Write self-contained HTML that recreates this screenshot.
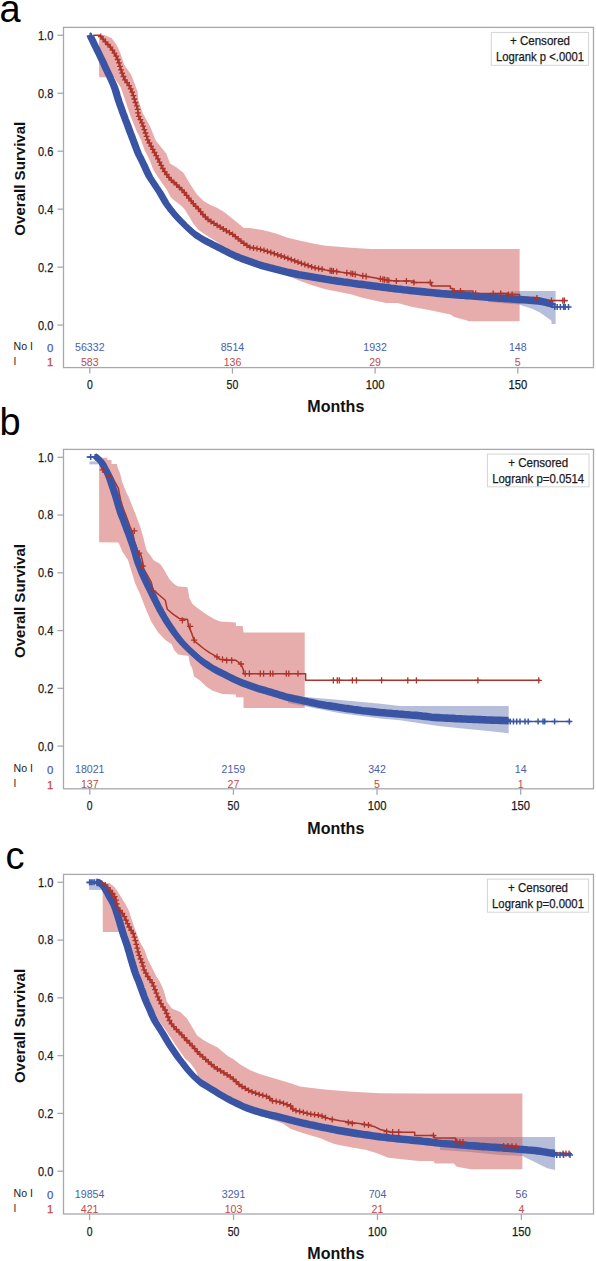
<!DOCTYPE html>
<html><head><meta charset="utf-8"><style>
html,body{margin:0;padding:0;background:#fff;overflow:hidden;width:596px;height:1261px;}
svg{display:block;font-family:"Liberation Sans", sans-serif;}
text{stroke-width:0.25px;paint-order:stroke;}
text.b{stroke-width:0;}
</style></head><body>
<svg width="596" height="1261" viewBox="0 0 596 1261">
<polygon points="488.0,294.0 519.3,290.9 555.6,290.9 555.6,324.0 551.5,324.0 551.5,320.7 545.9,316.7 540.3,312.7 532.2,308.7 524.2,306.2 519.3,304.6 500.0,303.0 488.0,302.0" fill="#6f7eb3" fill-opacity="0.5"/>
<polygon points="99.1,35.0 104.1,35.0 111.5,38.1 115.6,43.4 118.2,48.1 120.9,54.8 124.3,64.9 131.0,74.3 137.7,91.7 138.2,100.0 142.9,113.4 150.3,126.8 155.6,140.3 166.4,153.7 170.0,163.4 176.7,167.4 183.4,172.8 187.4,179.5 191.5,186.2 196.8,194.3 203.6,201.0 210.3,205.0 217.0,207.7 223.7,211.7 230.4,217.1 237.1,222.5 243.8,227.9 250.0,228.1 262.6,230.1 275.2,233.2 287.8,237.7 300.3,240.7 315.4,244.0 325.5,245.7 350.7,247.8 370.8,249.0 519.6,249.0 519.6,321.2 468.0,321.2 468.0,320.7 454.2,316.9 450.4,314.4 431.5,310.6 411.4,306.8 397.6,303.0 385.9,303.1 363.3,298.1 350.7,294.3 325.5,289.3 312.9,285.5 300.3,281.0 287.8,276.0 260.0,267.0 240.7,258.0 225.0,248.5 217.4,242.3 209.3,237.3 203.3,233.3 198.6,230.0 193.2,223.6 189.2,216.8 185.1,210.1 182.4,206.8 178.4,203.4 173.7,200.1 170.4,196.7 167.0,190.0 163.6,185.2 157.7,176.8 153.2,169.6 149.8,160.2 144.5,150.1 141.1,140.1 136.5,131.0 130.1,115.1 123.4,95.0 121.0,88.0 118.3,83.7 114.0,77.2 99.1,77.2" fill="#d05b5b" fill-opacity="0.5"/>
<polyline points="93.4,35.2 99.8,35.2 102.1,38.1 106.2,42.8 110.2,46.8 113.5,51.5 116.2,56.2 118.6,61.6 120.0,66.5 122.2,73.6 124.8,79.6 129.7,86.4 133.0,94.4 135.0,101.1 137.5,108.0 138.2,115.1 141.5,121.8 144.5,130.0 147.8,140.1 153.2,150.1 158.6,160.2 163.3,169.6 170.0,178.9 182.3,190.1 188.0,197.0 193.0,203.4 198.5,209.0 202.8,214.4 208.5,220.0 217.0,225.2 223.7,229.2 232.6,234.4 242.7,242.5 250.0,247.3 262.6,249.8 275.2,254.0 287.8,258.3 300.3,262.9 312.9,267.4 325.5,269.9 338.1,271.7 350.7,273.4 363.3,275.9 375.8,278.0 388.4,280.5 400.0,281.0 413.9,281.0 413.9,282.5 431.5,282.5 431.5,286.0 450.4,286.0 450.4,288.5 452.9,288.5 452.9,291.0 473.0,291.0 473.0,293.5 508.3,293.5 508.3,294.5 519.6,294.5 519.6,297.5 537.0,297.5 537.0,300.6 567.7,300.6" fill="none" stroke="#ab3329" stroke-width="1.5" stroke-linejoin="round" stroke-linecap="butt"/>
<g fill="none" stroke="#3b55a5" stroke-width="2.0" stroke-linejoin="round"><path d="M87.4 35.4L88.6 38.2L89.9 40.9L91.2 43.6L92.5 46.3L93.9 49.0L95.2 51.7L96.5 54.4L97.8 57.1L99.1 59.8L100.4 62.5L101.7 65.3L102.9 68.0L104.2 70.7L105.5 73.5L106.8 76.2L108.0 78.9L109.3 81.6L110.5 84.4L111.6 87.2L112.6 90.0L113.5 92.9L114.3 95.8L115.2 98.6L116.1 101.5L117.1 104.4L118.1 107.2L119.1 110.0L120.1 112.9L121.2 115.7L122.2 118.5L123.3 121.3L124.4 124.1L125.4 126.9L126.5 129.8L127.5 132.6L128.6 135.4L129.6 138.2L130.7 141.0L131.8 143.9L132.8 146.7L133.9 149.5L135.0 152.3L136.2 155.0L137.6 157.7L138.9 160.4L140.2 163.1L141.5 165.8L142.8 168.6L144.0 171.3L145.3 174.0L146.6 176.7L148.2 179.3L149.9 181.8L151.6 184.3L153.2 186.8L154.9 189.3L156.6 191.8L158.1 194.3L159.6 197.0L161.1 199.6L162.6 202.2L164.2 204.7L166.0 207.1L167.8 209.5L169.7 211.8L171.6 214.2L173.6 216.5L175.6 218.7L177.7 220.8L179.8 223.0L182.0 225.1L184.1 227.2L186.3 229.2L188.6 231.3L190.8 233.3L193.2 235.1L195.7 236.7L198.3 238.3L200.9 239.8L203.5 241.3L206.2 242.6L208.8 244.0L211.5 245.4L214.2 246.7L216.9 248.1L219.5 249.5L222.2 250.9L224.9 252.2L227.6 253.6L230.3 254.9L233.0 256.2L235.8 257.3L238.6 258.4L241.4 259.4L244.3 260.5L247.1 261.5L249.9 262.6L252.8 263.5L255.6 264.5L258.5 265.4L261.4 266.3L264.3 267.0L267.2 267.8L270.1 268.5L273.0 269.3L275.9 270.0L278.8 270.8L281.7 271.5L284.7 272.3L287.6 272.9L290.6 273.5L293.5 274.1L296.5 274.7L299.4 275.2L302.4 275.7L305.4 276.2L308.3 276.7L311.3 277.3L314.2 277.8L317.2 278.3L320.2 278.8L323.2 279.3L326.1 279.7L329.1 280.2L332.1 280.6L335.1 281.1L338.0 281.5L341.0 282.0L344.0 282.4L347.0 282.8L349.9 283.3L352.9 283.7L355.9 284.1L358.9 284.4L361.9 284.8L364.9 285.2L367.8 285.6L370.8 286.0L373.8 286.4L376.8 286.8L379.8 287.1L382.8 287.5L385.8 287.9L388.7 288.3L391.7 288.6L394.7 289.0L397.7 289.3L400.7 289.7L403.7 290.0L406.7 290.4L409.7 290.7L412.7 291.0L415.6 291.3L418.6 291.6L421.6 291.9L424.6 292.2L427.6 292.5L430.6 292.8L433.6 293.1L436.6 293.4L439.6 293.7L442.6 293.9L445.6 294.1L448.6 294.4L451.6 294.6L454.6 294.9L457.6 295.1L460.6 295.3L463.6 295.6L466.6 295.8L469.6 296.0L472.6 296.3L475.6 296.5L478.6 296.8L481.6 297.0L484.6 297.2L487.6 297.5L490.6 297.7L493.6 297.9L496.6 298.1L499.6 298.3L502.6 298.6L505.6 298.8L508.6 299.0L511.6 299.2L514.6 299.4L517.6 299.6L520.6 299.8L523.6 300.0L526.6 300.3L529.6 300.5L532.6 300.7L535.6 301.0L538.6 301.4L541.5 302.1L544.4 302.8L547.3 303.6L550.2 304.5"/><path d="M88.3 35.4L89.5 38.2L90.8 40.9L92.1 43.6L93.5 46.3L94.8 49.0L96.1 51.7L97.5 54.4L98.8 57.1L100.1 59.8L101.3 62.5L102.6 65.3L103.8 68.0L105.1 70.7L106.4 73.5L107.7 76.2L109.0 78.9L110.2 81.6L111.4 84.4L112.6 87.2L113.5 90.0L114.4 92.9L115.3 95.8L116.1 98.6L117.1 101.5L118.1 104.4L119.1 107.2L120.1 110.0L121.1 112.9L122.1 115.7L123.2 118.5L124.2 121.3L125.3 124.1L126.4 126.9L127.4 129.8L128.5 132.6L129.5 135.4L130.6 138.2L131.6 141.0L132.7 143.9L133.8 146.7L134.8 149.5L135.9 152.3L137.2 155.0L138.5 157.7L139.9 160.4L141.2 163.1L142.4 165.8L143.7 168.6L144.9 171.3L146.2 174.0L147.6 176.7L149.1 179.3L150.8 181.8L152.5 184.3L154.2 186.8L155.8 189.3L157.5 191.8L159.1 194.3L160.6 197.0L162.0 199.6L163.5 202.2L165.1 204.7L166.9 207.1L168.8 209.5L170.7 211.8L172.6 214.2L174.5 216.5L176.6 218.7L178.7 220.8L180.8 223.0L182.9 225.1L185.1 227.2L187.3 229.2L189.5 231.3L191.7 233.3L194.1 235.1L196.6 236.7L199.2 238.3L201.8 239.8L204.4 241.3L207.1 242.6L209.8 244.0L212.5 245.4L215.1 246.7L217.8 248.1L220.5 249.5L223.2 250.9L225.8 252.2L228.5 253.6L231.2 254.9L234.0 256.2L236.7 257.3L239.6 258.4L242.4 259.4L245.2 260.5L248.0 261.5L250.8 262.6L253.7 263.5L256.5 264.5L259.4 265.4L262.3 266.3L265.2 267.0L268.1 267.8L271.0 268.5L273.9 269.3L276.9 270.0L279.8 270.8L282.7 271.5L285.6 272.3L288.5 272.9L291.5 273.5L294.4 274.1L297.4 274.7L300.4 275.2L303.3 275.7L306.3 276.2L309.3 276.7L312.2 277.3L315.2 277.8L318.1 278.3L321.1 278.8L324.1 279.3L327.1 279.7L330.0 280.2L333.0 280.6L336.0 281.1L339.0 281.5L341.9 282.0L344.9 282.4L347.9 282.8L350.9 283.3L353.9 283.7L356.8 284.1L359.8 284.4L362.8 284.8L365.8 285.2L368.8 285.6L371.8 286.0L374.7 286.4L377.7 286.8L380.7 287.1L383.7 287.5L386.7 287.9L389.7 288.3L392.7 288.6L395.6 289.0L398.6 289.3L401.6 289.7L404.6 290.0L407.6 290.4L410.6 290.7L413.6 291.0L416.6 291.3L419.6 291.6L422.6 291.9L425.6 292.2L428.6 292.5L431.6 292.8L434.5 293.1L437.5 293.4L440.5 293.7L443.5 293.9L446.5 294.1L449.5 294.4L452.5 294.6L455.5 294.9L458.5 295.1L461.5 295.3L464.5 295.6L467.5 295.8L470.5 296.0L473.5 296.3L476.5 296.5L479.5 296.8L482.5 297.0L485.5 297.2L488.5 297.5L491.5 297.7L494.5 297.9L497.5 298.1L500.5 298.3L503.5 298.6L506.5 298.8L509.5 299.0L512.5 299.2L515.5 299.4L518.6 299.6L521.6 299.8L524.6 300.0L527.6 300.3L530.6 300.5L533.6 300.7L536.6 301.0L539.5 301.4L542.5 302.1L545.4 302.8L548.3 303.6L551.1 304.5"/><path d="M89.3 35.4L90.5 38.2L91.7 40.9L93.1 43.6L94.4 46.3L95.7 49.0L97.1 51.7L98.4 54.4L99.7 57.1L101.0 59.8L102.3 62.5L103.5 65.3L104.8 68.0L106.0 70.7L107.3 73.5L108.6 76.2L109.9 78.9L111.2 81.6L112.4 84.4L113.5 87.2L114.5 90.0L115.3 92.9L116.2 95.8L117.1 98.6L118.0 101.5L119.0 104.4L120.0 107.2L121.0 110.0L122.0 112.9L123.0 115.7L124.1 118.5L125.2 121.3L126.2 124.1L127.3 126.9L128.4 129.8L129.4 132.6L130.5 135.4L131.5 138.2L132.6 141.0L133.6 143.9L134.7 146.7L135.8 149.5L136.9 152.3L138.1 155.0L139.5 157.7L140.8 160.4L142.1 163.1L143.4 165.8L144.6 168.6L145.9 171.3L147.1 174.0L148.5 176.7L150.1 179.3L151.7 181.8L153.4 184.3L155.1 186.8L156.8 189.3L158.4 191.8L160.0 194.3L161.5 197.0L162.9 199.6L164.4 202.2L166.1 204.7L167.9 207.1L169.7 209.5L171.6 211.8L173.5 214.2L175.5 216.5L177.5 218.7L179.6 220.8L181.7 223.0L183.8 225.1L186.0 227.2L188.2 229.2L190.4 231.3L192.7 233.3L195.0 235.1L197.5 236.7L200.1 238.3L202.7 239.8L205.4 241.3L208.0 242.6L210.7 244.0L213.4 245.4L216.1 246.7L218.7 248.1L221.4 249.5L224.1 250.9L226.8 252.2L229.5 253.6L232.2 254.9L234.9 256.2L237.7 257.3L240.5 258.4L243.3 259.4L246.1 260.5L248.9 261.5L251.8 262.6L254.6 263.5L257.5 264.5L260.3 265.4L263.2 266.3L266.1 267.0L269.0 267.8L272.0 268.5L274.9 269.3L277.8 270.0L280.7 270.8L283.6 271.5L286.5 272.3L289.5 272.9L292.4 273.5L295.4 274.1L298.3 274.7L301.3 275.2L304.3 275.7L307.2 276.2L310.2 276.7L313.2 277.3L316.1 277.8L319.1 278.3L322.0 278.8L325.0 279.3L328.0 279.7L331.0 280.2L333.9 280.6L336.9 281.1L339.9 281.5L342.9 282.0L345.8 282.4L348.8 282.8L351.8 283.3L354.8 283.7L357.8 284.1L360.8 284.4L363.7 284.8L366.7 285.2L369.7 285.6L372.7 286.0L375.7 286.4L378.7 286.8L381.6 287.1L384.6 287.5L387.6 287.9L390.6 288.3L393.6 288.6L396.6 289.0L399.6 289.3L402.6 289.7L405.5 290.0L408.5 290.4L411.5 290.7L414.5 291.0L417.5 291.3L420.5 291.6L423.5 291.9L426.5 292.2L429.5 292.5L432.5 292.8L435.5 293.1L438.5 293.4L441.5 293.7L444.5 293.9L447.5 294.1L450.5 294.4L453.5 294.6L456.5 294.9L459.5 295.1L462.5 295.3L465.5 295.6L468.5 295.8L471.5 296.0L474.5 296.3L477.5 296.5L480.5 296.8L483.5 297.0L486.5 297.2L489.5 297.5L492.5 297.7L495.5 297.9L498.5 298.1L501.5 298.3L504.5 298.6L507.5 298.8L510.5 299.0L513.5 299.2L516.5 299.4L519.5 299.6L522.5 299.8L525.5 300.0L528.5 300.3L531.5 300.5L534.5 300.7L537.5 301.0L540.5 301.4L543.4 302.1L546.3 302.8L549.2 303.6L552.1 304.5"/><path d="M90.2 35.4L91.4 38.2L92.7 40.9L94.0 43.6L95.3 46.3L96.7 49.0L98.0 51.7L99.3 54.4L100.6 57.1L101.9 59.8L103.2 62.5L104.5 65.3L105.7 68.0L107.0 70.7L108.3 73.5L109.6 76.2L110.8 78.9L112.1 81.6L113.3 84.4L114.4 87.2L115.4 90.0L116.3 92.9L117.1 95.8L118.0 98.6L118.9 101.5L119.9 104.4L120.9 107.2L121.9 110.0L122.9 112.9L124.0 115.7L125.0 118.5L126.1 121.3L127.2 124.1L128.2 126.9L129.3 129.8L130.3 132.6L131.4 135.4L132.4 138.2L133.5 141.0L134.6 143.9L135.6 146.7L136.7 149.5L137.8 152.3L139.0 155.0L140.4 157.7L141.7 160.4L143.0 163.1L144.3 165.8L145.6 168.6L146.8 171.3L148.1 174.0L149.4 176.7L151.0 179.3L152.7 181.8L154.4 184.3L156.0 186.8L157.7 189.3L159.4 191.8L160.9 194.3L162.4 197.0L163.9 199.6L165.4 202.2L167.0 204.7L168.8 207.1L170.6 209.5L172.5 211.8L174.4 214.2L176.4 216.5L178.4 218.7L180.5 220.8L182.6 223.0L184.8 225.1L186.9 227.2L189.1 229.2L191.4 231.3L193.6 233.3L196.0 235.1L198.5 236.7L201.1 238.3L203.7 239.8L206.3 241.3L209.0 242.6L211.6 244.0L214.3 245.4L217.0 246.7L219.7 248.1L222.3 249.5L225.0 250.9L227.7 252.2L230.4 253.6L233.1 254.9L235.8 256.2L238.6 257.3L241.4 258.4L244.2 259.4L247.1 260.5L249.9 261.5L252.7 262.6L255.6 263.5L258.4 264.5L261.3 265.4L264.2 266.3L267.1 267.0L270.0 267.8L272.9 268.5L275.8 269.3L278.7 270.0L281.6 270.8L284.5 271.5L287.5 272.3L290.4 272.9L293.4 273.5L296.3 274.1L299.3 274.7L302.2 275.2L305.2 275.7L308.2 276.2L311.1 276.7L314.1 277.3L317.0 277.8L320.0 278.3L323.0 278.8L326.0 279.3L328.9 279.7L331.9 280.2L334.9 280.6L337.9 281.1L340.8 281.5L343.8 282.0L346.8 282.4L349.8 282.8L352.7 283.3L355.7 283.7L358.7 284.1L361.7 284.4L364.7 284.8L367.7 285.2L370.6 285.6L373.6 286.0L376.6 286.4L379.6 286.8L382.6 287.1L385.6 287.5L388.6 287.9L391.5 288.3L394.5 288.6L397.5 289.0L400.5 289.3L403.5 289.7L406.5 290.0L409.5 290.4L412.5 290.7L415.5 291.0L418.4 291.3L421.4 291.6L424.4 291.9L427.4 292.2L430.4 292.5L433.4 292.8L436.4 293.1L439.4 293.4L442.4 293.7L445.4 293.9L448.4 294.1L451.4 294.4L454.4 294.6L457.4 294.9L460.4 295.1L463.4 295.3L466.4 295.6L469.4 295.8L472.4 296.0L475.4 296.3L478.4 296.5L481.4 296.8L484.4 297.0L487.4 297.2L490.4 297.5L493.4 297.7L496.4 297.9L499.4 298.1L502.4 298.3L505.4 298.6L508.4 298.8L511.4 299.0L514.4 299.2L517.4 299.4L520.4 299.6L523.4 299.8L526.4 300.0L529.4 300.3L532.4 300.5L535.4 300.7L538.4 301.0L541.4 301.4L544.3 302.1L547.2 302.8L550.1 303.6L553.0 304.5"/><path d="M91.1 35.4L92.3 38.2L93.6 40.9L94.9 43.6L96.3 46.3L97.6 49.0L98.9 51.7L100.3 54.4L101.6 57.1L102.9 59.8L104.1 62.5L105.4 65.3L106.6 68.0L107.9 70.7L109.2 73.5L110.5 76.2L111.8 78.9L113.0 81.6L114.2 84.4L115.4 87.2L116.3 90.0L117.2 92.9L118.1 95.8L118.9 98.6L119.9 101.5L120.9 104.4L121.9 107.2L122.9 110.0L123.9 112.9L124.9 115.7L126.0 118.5L127.0 121.3L128.1 124.1L129.2 126.9L130.2 129.8L131.3 132.6L132.3 135.4L133.4 138.2L134.4 141.0L135.5 143.9L136.6 146.7L137.6 149.5L138.7 152.3L140.0 155.0L141.3 157.7L142.7 160.4L144.0 163.1L145.2 165.8L146.5 168.6L147.7 171.3L149.0 174.0L150.4 176.7L151.9 179.3L153.6 181.8L155.3 184.3L157.0 186.8L158.6 189.3L160.3 191.8L161.9 194.3L163.4 197.0L164.8 199.6L166.3 202.2L167.9 204.7L169.7 207.1L171.6 209.5L173.5 211.8L175.4 214.2L177.3 216.5L179.4 218.7L181.5 220.8L183.6 223.0L185.7 225.1L187.9 227.2L190.1 229.2L192.3 231.3L194.5 233.3L196.9 235.1L199.4 236.7L202.0 238.3L204.6 239.8L207.2 241.3L209.9 242.6L212.6 244.0L215.3 245.4L217.9 246.7L220.6 248.1L223.3 249.5L226.0 250.9L228.6 252.2L231.3 253.6L234.0 254.9L236.8 256.2L239.5 257.3L242.4 258.4L245.2 259.4L248.0 260.5L250.8 261.5L253.6 262.6L256.5 263.5L259.3 264.5L262.2 265.4L265.1 266.3L268.0 267.0L270.9 267.8L273.8 268.5L276.7 269.3L279.7 270.0L282.6 270.8L285.5 271.5L288.4 272.3L291.3 272.9L294.3 273.5L297.2 274.1L300.2 274.7L303.2 275.2L306.1 275.7L309.1 276.2L312.1 276.7L315.0 277.3L318.0 277.8L320.9 278.3L323.9 278.8L326.9 279.3L329.9 279.7L332.8 280.2L335.8 280.6L338.8 281.1L341.8 281.5L344.7 282.0L347.7 282.4L350.7 282.8L353.7 283.3L356.7 283.7L359.6 284.1L362.6 284.4L365.6 284.8L368.6 285.2L371.6 285.6L374.6 286.0L377.5 286.4L380.5 286.8L383.5 287.1L386.5 287.5L389.5 287.9L392.5 288.3L395.5 288.6L398.4 289.0L401.4 289.3L404.4 289.7L407.4 290.0L410.4 290.4L413.4 290.7L416.4 291.0L419.4 291.3L422.4 291.6L425.4 291.9L428.4 292.2L431.4 292.5L434.4 292.8L437.3 293.1L440.3 293.4L443.3 293.7L446.3 293.9L449.3 294.1L452.3 294.4L455.3 294.6L458.3 294.9L461.3 295.1L464.3 295.3L467.3 295.6L470.3 295.8L473.3 296.0L476.3 296.3L479.3 296.5L482.3 296.8L485.3 297.0L488.3 297.2L491.3 297.5L494.3 297.7L497.3 297.9L500.3 298.1L503.3 298.3L506.3 298.6L509.3 298.8L512.3 299.0L515.3 299.2L518.3 299.4L521.4 299.6L524.4 299.8L527.4 300.0L530.4 300.3L533.4 300.5L536.4 300.7L539.4 301.0L542.3 301.4L545.3 302.1L548.2 302.8L551.1 303.6L553.9 304.5"/><path d="M92.1 35.4L93.3 38.2L94.5 40.9L95.9 43.6L97.2 46.3L98.5 49.0L99.9 51.7L101.2 54.4L102.5 57.1L103.8 59.8L105.1 62.5L106.3 65.3L107.6 68.0L108.8 70.7L110.1 73.5L111.4 76.2L112.7 78.9L114.0 81.6L115.2 84.4L116.3 87.2L117.3 90.0L118.1 92.9L119.0 95.8L119.9 98.6L120.8 101.5L121.8 104.4L122.8 107.2L123.8 110.0L124.8 112.9L125.8 115.7L126.9 118.5L128.0 121.3L129.0 124.1L130.1 126.9L131.2 129.8L132.2 132.6L133.3 135.4L134.3 138.2L135.4 141.0L136.4 143.9L137.5 146.7L138.6 149.5L139.7 152.3L140.9 155.0L142.3 157.7L143.6 160.4L144.9 163.1L146.2 165.8L147.4 168.6L148.7 171.3L149.9 174.0L151.3 176.7L152.9 179.3L154.5 181.8L156.2 184.3L157.9 186.8L159.6 189.3L161.2 191.8L162.8 194.3L164.3 197.0L165.7 199.6L167.2 202.2L168.9 204.7L170.7 207.1L172.5 209.5L174.4 211.8L176.3 214.2L178.3 216.5L180.3 218.7L182.4 220.8L184.5 223.0L186.6 225.1L188.8 227.2L191.0 229.2L193.2 231.3L195.5 233.3L197.8 235.1L200.3 236.7L202.9 238.3L205.5 239.8L208.2 241.3L210.8 242.6L213.5 244.0L216.2 245.4L218.9 246.7L221.5 248.1L224.2 249.5L226.9 250.9L229.6 252.2L232.3 253.6L235.0 254.9L237.7 256.2L240.5 257.3L243.3 258.4L246.1 259.4L248.9 260.5L251.7 261.5L254.6 262.6L257.4 263.5L260.3 264.5L263.1 265.4L266.0 266.3L268.9 267.0L271.8 267.8L274.8 268.5L277.7 269.3L280.6 270.0L283.5 270.8L286.4 271.5L289.3 272.3L292.3 272.9L295.2 273.5L298.2 274.1L301.1 274.7L304.1 275.2L307.1 275.7L310.0 276.2L313.0 276.7L316.0 277.3L318.9 277.8L321.9 278.3L324.8 278.8L327.8 279.3L330.8 279.7L333.8 280.2L336.7 280.6L339.7 281.1L342.7 281.5L345.7 282.0L348.6 282.4L351.6 282.8L354.6 283.3L357.6 283.7L360.6 284.1L363.6 284.4L366.5 284.8L369.5 285.2L372.5 285.6L375.5 286.0L378.5 286.4L381.5 286.8L384.4 287.1L387.4 287.5L390.4 287.9L393.4 288.3L396.4 288.6L399.4 289.0L402.4 289.3L405.4 289.7L408.3 290.0L411.3 290.4L414.3 290.7L417.3 291.0L420.3 291.3L423.3 291.6L426.3 291.9L429.3 292.2L432.3 292.5L435.3 292.8L438.3 293.1L441.3 293.4L444.3 293.7L447.3 293.9L450.3 294.1L453.3 294.4L456.3 294.6L459.3 294.9L462.3 295.1L465.3 295.3L468.3 295.6L471.3 295.8L474.3 296.0L477.3 296.3L480.3 296.5L483.3 296.8L486.3 297.0L489.3 297.2L492.3 297.5L495.3 297.7L498.3 297.9L501.3 298.1L504.3 298.3L507.3 298.6L510.3 298.8L513.3 299.0L516.3 299.2L519.3 299.4L522.3 299.6L525.3 299.8L528.3 300.0L531.3 300.3L534.3 300.5L537.3 300.7L540.3 301.0L543.3 301.4L546.2 302.1L549.1 302.8L552.0 303.6L554.9 304.5"/><path d="M93.0 35.4L94.2 38.2L95.5 40.9L96.8 43.6L98.1 46.3L99.5 49.0L100.8 51.7L102.1 54.4L103.4 57.1L104.7 59.8L106.0 62.5L107.3 65.3L108.5 68.0L109.8 70.7L111.1 73.5L112.4 76.2L113.6 78.9L114.9 81.6L116.1 84.4L117.2 87.2L118.2 90.0L119.1 92.9L119.9 95.8L120.8 98.6L121.7 101.5L122.7 104.4L123.7 107.2L124.7 110.0L125.7 112.9L126.8 115.7L127.8 118.5L128.9 121.3L130.0 124.1L131.0 126.9L132.1 129.8L133.1 132.6L134.2 135.4L135.2 138.2L136.3 141.0L137.4 143.9L138.4 146.7L139.5 149.5L140.6 152.3L141.8 155.0L143.2 157.7L144.5 160.4L145.8 163.1L147.1 165.8L148.4 168.6L149.6 171.3L150.9 174.0L152.2 176.7L153.8 179.3L155.5 181.8L157.2 184.3L158.8 186.8L160.5 189.3L162.2 191.8L163.7 194.3L165.2 197.0L166.7 199.6L168.2 202.2L169.8 204.7L171.6 207.1L173.4 209.5L175.3 211.8L177.2 214.2L179.2 216.5L181.2 218.7L183.3 220.8L185.4 223.0L187.6 225.1L189.7 227.2L191.9 229.2L194.2 231.3L196.4 233.3L198.8 235.1L201.3 236.7L203.9 238.3L206.5 239.8L209.1 241.3L211.8 242.6L214.4 244.0L217.1 245.4L219.8 246.7L222.5 248.1L225.1 249.5L227.8 250.9L230.5 252.2L233.2 253.6L235.9 254.9L238.6 256.2L241.4 257.3L244.2 258.4L247.0 259.4L249.9 260.5L252.7 261.5L255.5 262.6L258.4 263.5L261.2 264.5L264.1 265.4L267.0 266.3L269.9 267.0L272.8 267.8L275.7 268.5L278.6 269.3L281.5 270.0L284.4 270.8L287.3 271.5L290.3 272.3L293.2 272.9L296.2 273.5L299.1 274.1L302.1 274.7L305.0 275.2L308.0 275.7L311.0 276.2L313.9 276.7L316.9 277.3L319.8 277.8L322.8 278.3L325.8 278.8L328.8 279.3L331.7 279.7L334.7 280.2L337.7 280.6L340.7 281.1L343.6 281.5L346.6 282.0L349.6 282.4L352.6 282.8L355.5 283.3L358.5 283.7L361.5 284.1L364.5 284.4L367.5 284.8L370.5 285.2L373.4 285.6L376.4 286.0L379.4 286.4L382.4 286.8L385.4 287.1L388.4 287.5L391.4 287.9L394.3 288.3L397.3 288.6L400.3 289.0L403.3 289.3L406.3 289.7L409.3 290.0L412.3 290.4L415.3 290.7L418.3 291.0L421.2 291.3L424.2 291.6L427.2 291.9L430.2 292.2L433.2 292.5L436.2 292.8L439.2 293.1L442.2 293.4L445.2 293.7L448.2 293.9L451.2 294.1L454.2 294.4L457.2 294.6L460.2 294.9L463.2 295.1L466.2 295.3L469.2 295.6L472.2 295.8L475.2 296.0L478.2 296.3L481.2 296.5L484.2 296.8L487.2 297.0L490.2 297.2L493.2 297.5L496.2 297.7L499.2 297.9L502.2 298.1L505.2 298.3L508.2 298.6L511.2 298.8L514.2 299.0L517.2 299.2L520.2 299.4L523.2 299.6L526.2 299.8L529.2 300.0L532.2 300.3L535.2 300.5L538.2 300.7L541.2 301.0L544.2 301.4L547.1 302.1L550.0 302.8L552.9 303.6L555.8 304.5"/><path d="M90.2 32.6L91.4 35.4L92.7 38.1L94.0 40.8L95.3 43.5L96.7 46.2L98.0 48.9L99.3 51.6L100.6 54.3L101.9 57.0L103.2 59.7L104.5 62.5L105.7 65.2L107.0 67.9L108.3 70.7L109.6 73.4L110.8 76.1L112.1 78.8L113.3 81.6L114.4 84.4L115.4 87.2L116.3 90.1L117.1 93.0L118.0 95.8L118.9 98.7L119.9 101.6L120.9 104.4L121.9 107.2L122.9 110.1L124.0 112.9L125.0 115.7L126.1 118.5L127.2 121.3L128.2 124.1L129.3 127.0L130.3 129.8L131.4 132.6L132.4 135.4L133.5 138.2L134.6 141.1L135.6 143.9L136.7 146.7L137.8 149.5L139.0 152.2L140.4 154.9L141.7 157.6L143.0 160.3L144.3 163.0L145.6 165.8L146.8 168.5L148.1 171.2L149.4 173.9L151.0 176.5L152.7 179.0L154.4 181.5L156.0 184.0L157.7 186.5L159.4 189.0L160.9 191.5L162.4 194.2L163.9 196.8L165.4 199.4L167.0 201.9L168.8 204.3L170.6 206.7L172.5 209.0L174.4 211.4L176.4 213.7L178.4 215.9L180.5 218.0L182.6 220.2L184.8 222.3L186.9 224.4L189.1 226.4L191.4 228.5L193.6 230.5L196.0 232.3L198.5 233.9L201.1 235.5L203.7 237.0L206.3 238.5L209.0 239.8L211.6 241.2L214.3 242.6L217.0 243.9L219.7 245.3L222.3 246.7L225.0 248.1L227.7 249.4L230.4 250.8L233.1 252.1L235.8 253.4L238.6 254.5L241.4 255.6L244.2 256.6L247.1 257.7L249.9 258.7L252.7 259.8L255.6 260.7L258.4 261.7L261.3 262.6L264.2 263.5L267.1 264.2L270.0 265.0L272.9 265.7L275.8 266.5L278.7 267.2L281.6 268.0L284.5 268.7L287.5 269.5L290.4 270.1L293.4 270.7L296.3 271.3L299.3 271.9L302.2 272.4L305.2 272.9L308.2 273.4L311.1 273.9L314.1 274.5L317.0 275.0L320.0 275.5L323.0 276.0L326.0 276.5L328.9 276.9L331.9 277.4L334.9 277.8L337.9 278.3L340.8 278.7L343.8 279.2L346.8 279.6L349.8 280.0L352.7 280.5L355.7 280.9L358.7 281.3L361.7 281.6L364.7 282.0L367.7 282.4L370.6 282.8L373.6 283.2L376.6 283.6L379.6 284.0L382.6 284.3L385.6 284.7L388.6 285.1L391.5 285.5L394.5 285.8L397.5 286.2L400.5 286.5L403.5 286.9L406.5 287.2L409.5 287.6L412.5 287.9L415.5 288.2L418.4 288.5L421.4 288.8L424.4 289.1L427.4 289.4L430.4 289.7L433.4 290.0L436.4 290.3L439.4 290.6L442.4 290.9L445.4 291.1L448.4 291.3L451.4 291.6L454.4 291.8L457.4 292.1L460.4 292.3L463.4 292.5L466.4 292.8L469.4 293.0L472.4 293.2L475.4 293.5L478.4 293.7L481.4 294.0L484.4 294.2L487.4 294.4L490.4 294.7L493.4 294.9L496.4 295.1L499.4 295.3L502.4 295.5L505.4 295.8L508.4 296.0L511.4 296.2L514.4 296.4L517.4 296.6L520.4 296.8L523.4 297.0L526.4 297.2L529.4 297.5L532.4 297.7L535.4 297.9L538.4 298.2L541.4 298.6L544.3 299.3L547.2 300.0L550.1 300.8L553.0 301.7"/><path d="M90.2 33.5L91.4 36.3L92.7 39.0L94.0 41.7L95.3 44.4L96.7 47.1L98.0 49.8L99.3 52.5L100.6 55.2L101.9 57.9L103.2 60.7L104.5 63.4L105.7 66.1L107.0 68.9L108.3 71.6L109.6 74.3L110.8 77.0L112.1 79.8L113.3 82.5L114.4 85.3L115.4 88.1L116.3 91.0L117.1 93.9L118.0 96.8L118.9 99.6L119.9 102.5L120.9 105.3L121.9 108.2L122.9 111.0L124.0 113.8L125.0 116.6L126.1 119.4L127.2 122.3L128.2 125.1L129.3 127.9L130.3 130.7L131.4 133.5L132.4 136.4L133.5 139.2L134.6 142.0L135.6 144.8L136.7 147.6L137.8 150.4L139.0 153.2L140.4 155.8L141.7 158.5L143.0 161.2L144.3 164.0L145.6 166.7L146.8 169.4L148.1 172.2L149.4 174.8L151.0 177.4L152.7 179.9L154.4 182.4L156.0 184.9L157.7 187.4L159.4 189.9L160.9 192.5L162.4 195.1L163.9 197.7L165.4 200.3L167.0 202.8L168.8 205.3L170.6 207.6L172.5 210.0L174.4 212.3L176.4 214.6L178.4 216.8L180.5 219.0L182.6 221.1L184.8 223.2L186.9 225.3L189.1 227.4L191.4 229.4L193.6 231.4L196.0 233.2L198.5 234.9L201.1 236.4L203.7 237.9L206.3 239.4L209.0 240.8L211.6 242.1L214.3 243.5L217.0 244.9L219.7 246.3L222.3 247.6L225.0 249.0L227.7 250.4L230.4 251.7L233.1 253.0L235.8 254.3L238.6 255.5L241.4 256.5L244.2 257.6L247.1 258.6L249.9 259.7L252.7 260.7L255.6 261.7L258.4 262.6L261.3 263.6L264.2 264.4L267.1 265.2L270.0 265.9L272.9 266.7L275.8 267.4L278.7 268.2L281.6 268.9L284.5 269.7L287.5 270.4L290.4 271.0L293.4 271.6L296.3 272.2L299.3 272.8L302.2 273.4L305.2 273.9L308.2 274.4L311.1 274.9L314.1 275.4L317.0 275.9L320.0 276.4L323.0 276.9L326.0 277.4L328.9 277.8L331.9 278.3L334.9 278.7L337.9 279.2L340.8 279.6L343.8 280.1L346.8 280.5L349.8 281.0L352.7 281.4L355.7 281.8L358.7 282.2L361.7 282.6L364.7 283.0L367.7 283.4L370.6 283.8L373.6 284.1L376.6 284.5L379.6 284.9L382.6 285.3L385.6 285.6L388.6 286.0L391.5 286.4L394.5 286.8L397.5 287.1L400.5 287.5L403.5 287.8L406.5 288.2L409.5 288.5L412.5 288.8L415.5 289.1L418.4 289.5L421.4 289.8L424.4 290.1L427.4 290.4L430.4 290.6L433.4 290.9L436.4 291.2L439.4 291.5L442.4 291.8L445.4 292.0L448.4 292.3L451.4 292.5L454.4 292.8L457.4 293.0L460.4 293.2L463.4 293.5L466.4 293.7L469.4 293.9L472.4 294.2L475.4 294.4L478.4 294.7L481.4 294.9L484.4 295.1L487.4 295.4L490.4 295.6L493.4 295.8L496.4 296.0L499.4 296.3L502.4 296.5L505.4 296.7L508.4 296.9L511.4 297.1L514.4 297.3L517.4 297.5L520.4 297.8L523.4 298.0L526.4 298.2L529.4 298.4L532.4 298.6L535.4 298.8L538.4 299.1L541.4 299.5L544.3 300.2L547.2 300.9L550.1 301.7L553.0 302.6"/><path d="M90.2 34.5L91.4 37.2L92.7 40.0L94.0 42.7L95.3 45.3L96.7 48.0L98.0 50.7L99.3 53.4L100.6 56.2L101.9 58.9L103.2 61.6L104.5 64.3L105.7 67.1L107.0 69.8L108.3 72.5L109.6 75.2L110.8 78.0L112.1 80.7L113.3 83.4L114.4 86.2L115.4 89.1L116.3 92.0L117.1 94.8L118.0 97.7L118.9 100.6L119.9 103.4L120.9 106.3L121.9 109.1L122.9 111.9L124.0 114.8L125.0 117.6L126.1 120.4L127.2 123.2L128.2 126.0L129.3 128.8L130.3 131.7L131.4 134.5L132.4 137.3L133.5 140.1L134.6 142.9L135.6 145.7L136.7 148.6L137.8 151.3L139.0 154.1L140.4 156.8L141.7 159.5L143.0 162.2L144.3 164.9L145.6 167.6L146.8 170.4L148.1 173.1L149.4 175.8L151.0 178.3L152.7 180.8L154.4 183.3L156.0 185.8L157.7 188.3L159.4 190.8L160.9 193.4L162.4 196.0L163.9 198.7L165.4 201.3L167.0 203.8L168.8 206.2L170.6 208.6L172.5 210.9L174.4 213.2L176.4 215.5L178.4 217.7L180.5 219.9L182.6 222.0L184.8 224.2L186.9 226.2L189.1 228.3L191.4 230.3L193.6 232.3L196.0 234.2L198.5 235.8L201.1 237.3L203.7 238.9L206.3 240.3L209.0 241.7L211.6 243.1L214.3 244.4L217.0 245.8L219.7 247.2L222.3 248.6L225.0 250.0L227.7 251.3L230.4 252.6L233.1 253.9L235.8 255.2L238.6 256.4L241.4 257.5L244.2 258.5L247.1 259.6L249.9 260.6L252.7 261.6L255.6 262.6L258.4 263.6L261.3 264.5L264.2 265.3L267.1 266.1L270.0 266.8L272.9 267.6L275.8 268.3L278.7 269.1L281.6 269.9L284.5 270.6L287.5 271.3L290.4 272.0L293.4 272.6L296.3 273.2L299.3 273.7L302.2 274.3L305.2 274.8L308.2 275.3L311.1 275.8L314.1 276.3L317.0 276.8L320.0 277.3L323.0 277.8L326.0 278.3L328.9 278.8L331.9 279.2L334.9 279.7L337.9 280.1L340.8 280.6L343.8 281.0L346.8 281.5L349.8 281.9L352.7 282.3L355.7 282.7L358.7 283.1L361.7 283.5L364.7 283.9L367.7 284.3L370.6 284.7L373.6 285.1L376.6 285.5L379.6 285.8L382.6 286.2L385.6 286.6L388.6 286.9L391.5 287.3L394.5 287.7L397.5 288.1L400.5 288.4L403.5 288.8L406.5 289.1L409.5 289.4L412.5 289.8L415.5 290.1L418.4 290.4L421.4 290.7L424.4 291.0L427.4 291.3L430.4 291.6L433.4 291.9L436.4 292.2L439.4 292.5L442.4 292.7L445.4 293.0L448.4 293.2L451.4 293.4L454.4 293.7L457.4 293.9L460.4 294.2L463.4 294.4L466.4 294.6L469.4 294.9L472.4 295.1L475.4 295.4L478.4 295.6L481.4 295.8L484.4 296.1L487.4 296.3L490.4 296.5L493.4 296.8L496.4 297.0L499.4 297.2L502.4 297.4L505.4 297.6L508.4 297.8L511.4 298.1L514.4 298.3L517.4 298.5L520.4 298.7L523.4 298.9L526.4 299.1L529.4 299.3L532.4 299.5L535.4 299.8L538.4 300.0L541.4 300.5L544.3 301.1L547.2 301.9L550.1 302.7L553.0 303.6"/><path d="M90.2 36.3L91.4 39.1L92.7 41.8L94.0 44.5L95.3 47.2L96.7 49.9L98.0 52.6L99.3 55.3L100.6 58.0L101.9 60.7L103.2 63.5L104.5 66.2L105.7 68.9L107.0 71.7L108.3 74.4L109.6 77.1L110.8 79.8L112.1 82.6L113.3 85.3L114.4 88.1L115.4 90.9L116.3 93.8L117.1 96.7L118.0 99.6L118.9 102.4L119.9 105.3L120.9 108.1L121.9 111.0L122.9 113.8L124.0 116.6L125.0 119.4L126.1 122.2L127.2 125.1L128.2 127.9L129.3 130.7L130.3 133.5L131.4 136.3L132.4 139.2L133.5 142.0L134.6 144.8L135.6 147.6L136.7 150.4L137.8 153.2L139.0 156.0L140.4 158.6L141.7 161.3L143.0 164.0L144.3 166.8L145.6 169.5L146.8 172.2L148.1 175.0L149.4 177.6L151.0 180.2L152.7 182.7L154.4 185.2L156.0 187.7L157.7 190.2L159.4 192.7L160.9 195.3L162.4 197.9L163.9 200.5L165.4 203.1L167.0 205.6L168.8 208.1L170.6 210.4L172.5 212.8L174.4 215.1L176.4 217.4L178.4 219.6L180.5 221.8L182.6 223.9L184.8 226.0L186.9 228.1L189.1 230.2L191.4 232.2L193.6 234.2L196.0 236.0L198.5 237.7L201.1 239.2L203.7 240.7L206.3 242.2L209.0 243.6L211.6 244.9L214.3 246.3L217.0 247.7L219.7 249.1L222.3 250.4L225.0 251.8L227.7 253.2L230.4 254.5L233.1 255.8L235.8 257.1L238.6 258.3L241.4 259.3L244.2 260.4L247.1 261.4L249.9 262.5L252.7 263.5L255.6 264.5L258.4 265.4L261.3 266.4L264.2 267.2L267.1 268.0L270.0 268.7L272.9 269.5L275.8 270.2L278.7 271.0L281.6 271.7L284.5 272.5L287.5 273.2L290.4 273.8L293.4 274.4L296.3 275.0L299.3 275.6L302.2 276.2L305.2 276.7L308.2 277.2L311.1 277.7L314.1 278.2L317.0 278.7L320.0 279.2L323.0 279.7L326.0 280.2L328.9 280.6L331.9 281.1L334.9 281.5L337.9 282.0L340.8 282.4L343.8 282.9L346.8 283.3L349.8 283.8L352.7 284.2L355.7 284.6L358.7 285.0L361.7 285.4L364.7 285.8L367.7 286.2L370.6 286.6L373.6 286.9L376.6 287.3L379.6 287.7L382.6 288.1L385.6 288.4L388.6 288.8L391.5 289.2L394.5 289.6L397.5 289.9L400.5 290.3L403.5 290.6L406.5 291.0L409.5 291.3L412.5 291.6L415.5 291.9L418.4 292.3L421.4 292.6L424.4 292.9L427.4 293.2L430.4 293.4L433.4 293.7L436.4 294.0L439.4 294.3L442.4 294.6L445.4 294.8L448.4 295.1L451.4 295.3L454.4 295.6L457.4 295.8L460.4 296.0L463.4 296.3L466.4 296.5L469.4 296.7L472.4 297.0L475.4 297.2L478.4 297.5L481.4 297.7L484.4 297.9L487.4 298.2L490.4 298.4L493.4 298.6L496.4 298.8L499.4 299.1L502.4 299.3L505.4 299.5L508.4 299.7L511.4 299.9L514.4 300.1L517.4 300.3L520.4 300.6L523.4 300.8L526.4 301.0L529.4 301.2L532.4 301.4L535.4 301.6L538.4 301.9L541.4 302.3L544.3 303.0L547.2 303.7L550.1 304.5L553.0 305.4"/><path d="M90.2 37.3L91.4 40.0L92.7 42.8L94.0 45.5L95.3 48.1L96.7 50.8L98.0 53.5L99.3 56.2L100.6 59.0L101.9 61.7L103.2 64.4L104.5 67.1L105.7 69.9L107.0 72.6L108.3 75.3L109.6 78.0L110.8 80.8L112.1 83.5L113.3 86.2L114.4 89.0L115.4 91.9L116.3 94.8L117.1 97.6L118.0 100.5L118.9 103.4L119.9 106.2L120.9 109.1L121.9 111.9L122.9 114.7L124.0 117.6L125.0 120.4L126.1 123.2L127.2 126.0L128.2 128.8L129.3 131.6L130.3 134.5L131.4 137.3L132.4 140.1L133.5 142.9L134.6 145.7L135.6 148.5L136.7 151.4L137.8 154.1L139.0 156.9L140.4 159.6L141.7 162.3L143.0 165.0L144.3 167.7L145.6 170.4L146.8 173.2L148.1 175.9L149.4 178.6L151.0 181.1L152.7 183.6L154.4 186.1L156.0 188.6L157.7 191.1L159.4 193.6L160.9 196.2L162.4 198.8L163.9 201.5L165.4 204.1L167.0 206.6L168.8 209.0L170.6 211.4L172.5 213.7L174.4 216.0L176.4 218.3L178.4 220.5L180.5 222.7L182.6 224.8L184.8 227.0L186.9 229.0L189.1 231.1L191.4 233.1L193.6 235.1L196.0 237.0L198.5 238.6L201.1 240.1L203.7 241.7L206.3 243.1L209.0 244.5L211.6 245.9L214.3 247.2L217.0 248.6L219.7 250.0L222.3 251.4L225.0 252.8L227.7 254.1L230.4 255.4L233.1 256.7L235.8 258.0L238.6 259.2L241.4 260.3L244.2 261.3L247.1 262.4L249.9 263.4L252.7 264.4L255.6 265.4L258.4 266.4L261.3 267.3L264.2 268.1L267.1 268.9L270.0 269.6L272.9 270.4L275.8 271.1L278.7 271.9L281.6 272.7L284.5 273.4L287.5 274.1L290.4 274.8L293.4 275.4L296.3 276.0L299.3 276.5L302.2 277.1L305.2 277.6L308.2 278.1L311.1 278.6L314.1 279.1L317.0 279.6L320.0 280.1L323.0 280.6L326.0 281.1L328.9 281.6L331.9 282.0L334.9 282.5L337.9 282.9L340.8 283.4L343.8 283.8L346.8 284.3L349.8 284.7L352.7 285.1L355.7 285.5L358.7 285.9L361.7 286.3L364.7 286.7L367.7 287.1L370.6 287.5L373.6 287.9L376.6 288.3L379.6 288.6L382.6 289.0L385.6 289.4L388.6 289.7L391.5 290.1L394.5 290.5L397.5 290.9L400.5 291.2L403.5 291.6L406.5 291.9L409.5 292.2L412.5 292.6L415.5 292.9L418.4 293.2L421.4 293.5L424.4 293.8L427.4 294.1L430.4 294.4L433.4 294.7L436.4 295.0L439.4 295.3L442.4 295.5L445.4 295.8L448.4 296.0L451.4 296.2L454.4 296.5L457.4 296.7L460.4 297.0L463.4 297.2L466.4 297.4L469.4 297.7L472.4 297.9L475.4 298.2L478.4 298.4L481.4 298.6L484.4 298.9L487.4 299.1L490.4 299.3L493.4 299.6L496.4 299.8L499.4 300.0L502.4 300.2L505.4 300.4L508.4 300.6L511.4 300.9L514.4 301.1L517.4 301.3L520.4 301.5L523.4 301.7L526.4 301.9L529.4 302.1L532.4 302.3L535.4 302.6L538.4 302.8L541.4 303.3L544.3 303.9L547.2 304.7L550.1 305.5L553.0 306.4"/><path d="M90.2 38.2L91.4 41.0L92.7 43.7L94.0 46.4L95.3 49.1L96.7 51.8L98.0 54.5L99.3 57.2L100.6 59.9L101.9 62.6L103.2 65.3L104.5 68.1L105.7 70.8L107.0 73.5L108.3 76.3L109.6 79.0L110.8 81.7L112.1 84.4L113.3 87.2L114.4 90.0L115.4 92.8L116.3 95.7L117.1 98.6L118.0 101.4L118.9 104.3L119.9 107.2L120.9 110.0L121.9 112.8L122.9 115.7L124.0 118.5L125.0 121.3L126.1 124.1L127.2 126.9L128.2 129.7L129.3 132.6L130.3 135.4L131.4 138.2L132.4 141.0L133.5 143.8L134.6 146.7L135.6 149.5L136.7 152.3L137.8 155.1L139.0 157.8L140.4 160.5L141.7 163.2L143.0 165.9L144.3 168.6L145.6 171.4L146.8 174.1L148.1 176.8L149.4 179.5L151.0 182.1L152.7 184.6L154.4 187.1L156.0 189.6L157.7 192.1L159.4 194.6L160.9 197.1L162.4 199.8L163.9 202.4L165.4 205.0L167.0 207.5L168.8 209.9L170.6 212.3L172.5 214.6L174.4 217.0L176.4 219.3L178.4 221.5L180.5 223.6L182.6 225.8L184.8 227.9L186.9 230.0L189.1 232.0L191.4 234.1L193.6 236.1L196.0 237.9L198.5 239.5L201.1 241.1L203.7 242.6L206.3 244.1L209.0 245.4L211.6 246.8L214.3 248.2L217.0 249.5L219.7 250.9L222.3 252.3L225.0 253.7L227.7 255.0L230.4 256.4L233.1 257.7L235.8 259.0L238.6 260.1L241.4 261.2L244.2 262.2L247.1 263.3L249.9 264.3L252.7 265.4L255.6 266.3L258.4 267.3L261.3 268.2L264.2 269.1L267.1 269.8L270.0 270.6L272.9 271.3L275.8 272.1L278.7 272.8L281.6 273.6L284.5 274.3L287.5 275.1L290.4 275.7L293.4 276.3L296.3 276.9L299.3 277.5L302.2 278.0L305.2 278.5L308.2 279.0L311.1 279.5L314.1 280.1L317.0 280.6L320.0 281.1L323.0 281.6L326.0 282.1L328.9 282.5L331.9 283.0L334.9 283.4L337.9 283.9L340.8 284.3L343.8 284.8L346.8 285.2L349.8 285.6L352.7 286.1L355.7 286.5L358.7 286.9L361.7 287.2L364.7 287.6L367.7 288.0L370.6 288.4L373.6 288.8L376.6 289.2L379.6 289.6L382.6 289.9L385.6 290.3L388.6 290.7L391.5 291.1L394.5 291.4L397.5 291.8L400.5 292.1L403.5 292.5L406.5 292.8L409.5 293.2L412.5 293.5L415.5 293.8L418.4 294.1L421.4 294.4L424.4 294.7L427.4 295.0L430.4 295.3L433.4 295.6L436.4 295.9L439.4 296.2L442.4 296.5L445.4 296.7L448.4 296.9L451.4 297.2L454.4 297.4L457.4 297.7L460.4 297.9L463.4 298.1L466.4 298.4L469.4 298.6L472.4 298.8L475.4 299.1L478.4 299.3L481.4 299.6L484.4 299.8L487.4 300.0L490.4 300.3L493.4 300.5L496.4 300.7L499.4 300.9L502.4 301.1L505.4 301.4L508.4 301.6L511.4 301.8L514.4 302.0L517.4 302.2L520.4 302.4L523.4 302.6L526.4 302.8L529.4 303.1L532.4 303.3L535.4 303.5L538.4 303.8L541.4 304.2L544.3 304.9L547.2 305.6L550.1 306.4L553.0 307.3"/></g>

<path d="M97.9,36.5h5.8M100.8,33.6v5.8M100.2,39.2h5.8M103.1,36.3v5.8M102.6,41.9h5.8M105.5,39.0v5.8M105.0,44.5h5.8M107.9,41.6v5.8M107.5,47.1h5.8M110.4,44.2v5.8M109.6,50.1h5.8M112.5,47.2v5.8M111.5,53.1h5.8M114.4,50.2v5.8M113.3,56.2h5.8M116.2,53.3v5.8M114.8,59.5h5.8M117.7,56.6v5.8M116.1,62.9h5.8M119.0,60.0v5.8M117.1,66.3h5.8M120.0,63.4v5.8M118.1,69.8h5.8M121.0,66.9v5.8M119.2,73.2h5.8M122.1,70.3v5.8M120.6,76.5h5.8M123.5,73.6v5.8M122.1,79.8h5.8M125.0,76.9v5.8M124.2,82.7h5.8M127.1,79.8v5.8M126.3,85.7h5.8M129.2,82.8v5.8M127.8,88.9h5.8M130.7,86.0v5.8M129.2,92.2h5.8M132.1,89.3v5.8M130.5,95.6h5.8M133.4,92.7v5.8M131.5,99.0h5.8M134.4,96.1v5.8M132.6,102.5h5.8M135.5,99.6v5.8M133.8,105.8h5.8M136.7,102.9v5.8M134.7,109.3h5.8M137.6,106.4v5.8M135.1,112.9h5.8M138.0,110.0v5.8M135.9,116.3h5.8M138.8,113.4v5.8M137.5,119.6h5.8M140.4,116.7v5.8M139.0,122.8h5.8M141.9,119.9v5.8M140.2,126.2h5.8M143.1,123.3v5.8M141.4,129.6h5.8M144.3,126.7v5.8M142.6,133.0h5.8M145.5,130.1v5.8M143.7,136.4h5.8M146.6,133.5v5.8M144.8,139.9h5.8M147.7,137.0v5.8M146.5,143.0h5.8M149.4,140.1v5.8M148.2,146.2h5.8M151.1,143.3v5.8M149.9,149.4h5.8M152.8,146.5v5.8M151.6,152.5h5.8M154.5,149.6v5.8M153.3,155.7h5.8M156.2,152.8v5.8M155.0,158.9h5.8M157.9,156.0v5.8M156.6,162.1h5.8M159.5,159.2v5.8M158.3,165.3h5.8M161.2,162.4v5.8M159.9,168.5h5.8M162.8,165.6v5.8M161.8,171.6h5.8M164.7,168.7v5.8M163.9,174.5h5.8M166.8,171.6v5.8M166.0,177.4h5.8M168.9,174.5v5.8M168.4,180.1h5.8M171.3,177.2v5.8M171.1,182.5h5.8M174.0,179.6v5.8M173.7,184.9h5.8M176.6,182.0v5.8M176.4,187.3h5.8M179.3,184.4v5.8M179.0,189.8h5.8M181.9,186.9v5.8M181.4,192.5h5.8M184.3,189.6v5.8M183.7,195.3h5.8M186.6,192.4v5.8M185.9,198.1h5.8M188.8,195.2v5.8M188.2,200.9h5.8M191.1,198.0v5.8M190.4,203.7h5.8M193.3,200.8v5.8M192.9,206.3h5.8M195.8,203.4v5.8M195.5,208.9h5.8M198.4,206.0v5.8M197.7,211.7h5.8M200.6,208.8v5.8M200.0,214.5h5.8M202.9,211.6v5.8M202.5,217.0h5.8M205.4,214.1v5.8M205.1,219.5h5.8M208.0,216.6v5.8M208.1,221.5h5.8M211.0,218.6v5.8M211.1,223.4h5.8M214.0,220.5v5.8M214.2,225.3h5.8M217.1,222.4v5.8M217.3,227.1h5.8M220.2,224.2v5.8M220.4,229.0h5.8M223.3,226.1v5.8M223.5,230.8h5.8M226.4,227.9v5.8M226.6,232.6h5.8M229.5,229.7v5.8M229.7,234.4h5.8M232.6,231.5v5.8M232.5,236.7h5.8M235.4,233.8v5.8M235.3,238.9h5.8M238.2,236.0v5.8M238.1,241.2h5.8M241.0,238.3v5.8M241.0,243.3h5.8M243.9,240.4v5.8M244.0,245.3h5.8M246.9,242.4v5.8M247.0,247.3h5.8M249.9,244.4v5.8M250.6,248.0h5.8M253.5,245.1v5.8M254.1,248.7h5.8M257.0,245.8v5.8M257.6,249.4h5.8M260.5,246.5v5.8M261.1,250.3h5.8M264.0,247.4v5.8M264.5,251.4h5.8M267.4,248.5v5.8M267.9,252.5h5.8M270.8,249.6v5.8M271.4,253.7h5.8M274.3,250.8v5.8M274.8,254.8h5.8M277.7,251.9v5.8M278.2,256.0h5.8M281.1,253.1v5.8M281.6,257.2h5.8M284.5,254.3v5.8M285.0,258.3h5.8M287.9,255.4v5.8M288.4,259.6h5.8M291.3,256.7v5.8M291.8,260.8h5.8M294.7,257.9v5.8M295.1,262.1h5.8M298.0,259.2v5.8M298.5,263.3h5.8M301.4,260.4v5.8M301.9,264.5h5.8M304.8,261.6v5.8M305.3,265.7h5.8M308.2,262.8v5.8M308.7,266.9h5.8M311.6,264.0v5.8M312.2,267.8h5.8M315.1,264.9v5.8M315.7,268.5h5.8M318.6,265.6v5.8M319.2,269.2h5.8M322.1,266.3v5.8" fill="none" stroke="#ab3329" stroke-width="1.3"/><path d="M327.0,270.6h6.2M330.1,267.5v6.2M328.6,270.8h6.2M331.7,267.7v6.2M330.3,271.0h6.2M333.4,267.9v6.2M333.7,271.5h6.2M336.8,268.4v6.2M343.7,272.9h6.2M346.8,269.8v6.2M347.9,273.5h6.2M351.0,270.4v6.2M349.6,273.8h6.2M352.7,270.7v6.2M352.1,274.3h6.2M355.2,271.2v6.2M359.7,275.8h6.2M362.8,272.7v6.2M363.0,276.4h6.2M366.1,273.3v6.2M377.3,278.9h6.2M380.4,275.8v6.2M379.8,279.4h6.2M382.9,276.3v6.2M381.5,279.7h6.2M384.6,276.6v6.2M384.0,280.2h6.2M387.1,277.1v6.2M385.7,280.5h6.2M388.8,277.4v6.2" fill="none" stroke="#ab3329" stroke-width="1.3"/><path d="M393.2,281.0h6.2M396.3,277.9v6.2M403.3,281.0h6.2M406.4,277.9v6.2M410.8,282.5h6.2M413.9,279.4v6.2M427.2,282.5h6.2M430.3,279.4v6.2M451.1,291.0h6.2M454.2,287.9v6.2M457.4,291.0h6.2M460.5,287.9v6.2M472.5,293.5h6.2M475.6,290.4v6.2M490.1,293.5h6.2M493.2,290.4v6.2M497.6,293.5h6.2M500.7,290.4v6.2M505.2,294.5h6.2M508.3,291.4v6.2M509.0,294.5h6.2M512.1,291.4v6.2M533.9,298.0h6.2M537.0,294.9v6.2M548.4,300.6h6.2M551.5,297.5v6.2M559.7,300.6h6.2M562.8,297.5v6.2M561.3,300.6h6.2M564.4,297.5v6.2" fill="none" stroke="#ab3329" stroke-width="1.3"/><line x1="551.5" y1="307" x2="569.3" y2="307" stroke="#3b55a5" stroke-width="1.6"/><path d="M551.7,307.0h6.2M554.8,303.9v6.2M554.1,307.0h6.2M557.2,303.9v6.2M557.3,307.0h6.2M560.4,303.9v6.2M560.5,307.0h6.2M563.6,303.9v6.2M562.1,307.0h6.2M565.2,303.9v6.2M565.4,307.0h6.2M568.5,303.9v6.2" fill="none" stroke="#3b55a5" stroke-width="1.5"/>
<rect x="63.5" y="27.4" width="530.0" height="340.2" fill="none" stroke="#a6a8ae" stroke-width="1.3"/>
<line x1="57.5" x2="63.5" y1="325.10" y2="325.10" stroke="#a6a8ae" stroke-width="1.3"/>
<text x="53.3" y="329.50" text-anchor="end" font-size="12.6" textLength="15.3" lengthAdjust="spacingAndGlyphs" fill="#1a1a1a" stroke="#1a1a1a">0.0</text>
<line x1="57.5" x2="63.5" y1="267.14" y2="267.14" stroke="#a6a8ae" stroke-width="1.3"/>
<text x="53.3" y="271.54" text-anchor="end" font-size="12.6" textLength="15.3" lengthAdjust="spacingAndGlyphs" fill="#1a1a1a" stroke="#1a1a1a">0.2</text>
<line x1="57.5" x2="63.5" y1="209.18" y2="209.18" stroke="#a6a8ae" stroke-width="1.3"/>
<text x="53.3" y="213.58" text-anchor="end" font-size="12.6" textLength="15.3" lengthAdjust="spacingAndGlyphs" fill="#1a1a1a" stroke="#1a1a1a">0.4</text>
<line x1="57.5" x2="63.5" y1="151.22" y2="151.22" stroke="#a6a8ae" stroke-width="1.3"/>
<text x="53.3" y="155.62" text-anchor="end" font-size="12.6" textLength="15.3" lengthAdjust="spacingAndGlyphs" fill="#1a1a1a" stroke="#1a1a1a">0.6</text>
<line x1="57.5" x2="63.5" y1="93.26" y2="93.26" stroke="#a6a8ae" stroke-width="1.3"/>
<text x="53.3" y="97.66" text-anchor="end" font-size="12.6" textLength="15.3" lengthAdjust="spacingAndGlyphs" fill="#1a1a1a" stroke="#1a1a1a">0.8</text>
<line x1="57.5" x2="63.5" y1="35.30" y2="35.30" stroke="#a6a8ae" stroke-width="1.3"/>
<text x="53.3" y="39.70" text-anchor="end" font-size="12.6" textLength="15.3" lengthAdjust="spacingAndGlyphs" fill="#1a1a1a" stroke="#1a1a1a">1.0</text>
<line x1="89.80" x2="89.80" y1="367.6" y2="373.6" stroke="#a6a8ae" stroke-width="1.3"/>
<text x="89.80" y="389.10" text-anchor="middle" font-size="12.4" textLength="5.8" lengthAdjust="spacingAndGlyphs" fill="#1a1a1a" stroke="#1a1a1a">0</text>
<text class="b" x="89.80" y="350.60" text-anchor="middle" font-size="10.6" fill="#4a5ea8" stroke="#4a5ea8">56332</text>
<text class="b" x="89.80" y="365.70" text-anchor="middle" font-size="10.6" fill="#c04a48" stroke="#c04a48">583</text>
<line x1="232.47" x2="232.47" y1="367.6" y2="373.6" stroke="#a6a8ae" stroke-width="1.3"/>
<text x="232.47" y="389.10" text-anchor="middle" font-size="12.4" textLength="11.7" lengthAdjust="spacingAndGlyphs" fill="#1a1a1a" stroke="#1a1a1a">50</text>
<text class="b" x="232.47" y="350.60" text-anchor="middle" font-size="10.6" fill="#4a5ea8" stroke="#4a5ea8">8514</text>
<text class="b" x="232.47" y="365.70" text-anchor="middle" font-size="10.6" fill="#c04a48" stroke="#c04a48">136</text>
<line x1="375.13" x2="375.13" y1="367.6" y2="373.6" stroke="#a6a8ae" stroke-width="1.3"/>
<text x="375.13" y="389.10" text-anchor="middle" font-size="12.4" textLength="18.7" lengthAdjust="spacingAndGlyphs" fill="#1a1a1a" stroke="#1a1a1a">100</text>
<text class="b" x="375.13" y="350.60" text-anchor="middle" font-size="10.6" fill="#4a5ea8" stroke="#4a5ea8">1932</text>
<text class="b" x="375.13" y="365.70" text-anchor="middle" font-size="10.6" fill="#c04a48" stroke="#c04a48">29</text>
<line x1="517.80" x2="517.80" y1="367.6" y2="373.6" stroke="#a6a8ae" stroke-width="1.3"/>
<text x="517.80" y="389.10" text-anchor="middle" font-size="12.4" textLength="18.7" lengthAdjust="spacingAndGlyphs" fill="#1a1a1a" stroke="#1a1a1a">150</text>
<text class="b" x="517.80" y="350.60" text-anchor="middle" font-size="10.6" fill="#4a5ea8" stroke="#4a5ea8">148</text>
<text class="b" x="517.80" y="365.70" text-anchor="middle" font-size="10.6" fill="#c04a48" stroke="#c04a48">5</text>
<text class="b" x="13.6" y="350.10" font-size="10" textLength="19.4" lengthAdjust="spacingAndGlyphs" fill="#1a1a1a" stroke="#1a1a1a">No I</text>
<text class="b" x="13.6" y="364.90" font-size="10" fill="#1a1a1a" stroke="#1a1a1a">I</text>
<text x="50.2" y="351.80" text-anchor="middle" font-size="11.4" fill="#4a5ea8" stroke="#4a5ea8">0</text>
<text x="50.2" y="366.20" text-anchor="middle" font-size="11.4" fill="#c04a48" stroke="#c04a48">1</text>
<text class="b" x="307.3" y="412.10" font-size="16" font-weight="bold" textLength="57" lengthAdjust="spacingAndGlyphs" fill="#111" stroke="#111">Months</text>
<text class="b" transform="translate(25,235.70) rotate(-90)" x="0" y="0" font-size="15.3" font-weight="bold" textLength="114" lengthAdjust="spacingAndGlyphs" fill="#111" stroke="#111">Overall Survival</text>
<rect x="491.3" y="32.4" width="97.3" height="32.9" fill="#fff" stroke="#d4d4d4" stroke-width="1"/>
<text x="540.0" y="45.0" text-anchor="middle" font-size="12.2" textLength="60" lengthAdjust="spacingAndGlyphs" fill="#1a1a1a" stroke="#1a1a1a">+ Censored</text>
<text x="540.0" y="61.4" text-anchor="middle" font-size="12.2" textLength="88" lengthAdjust="spacingAndGlyphs" fill="#1a1a1a" stroke="#1a1a1a">Logrank p <.0001</text>
<text class="b" x="-0.5" y="21.8" font-size="38" fill="#000" stroke="#000">a</text>
<polygon points="89.4,461.4 98.1,461.4 98.1,464.4 89.4,464.4" fill="#6f7eb3" fill-opacity="0.5"/><polygon points="288.0,694.0 305.0,697.1 340.3,700.1 380.5,703.8 400.0,706.1 508.7,706.1 508.7,737.3 508.5,733.3 490.6,731.2 480.5,730.2 460.4,728.2 440.3,726.2 420.0,723.2 400.0,720.2 380.5,718.5 340.3,713.2 305.0,706.2 288.0,703.0" fill="#6f7eb3" fill-opacity="0.5"/>
<polygon points="99.1,457.7 107.5,457.7 107.5,460.0 111.5,460.0 111.5,464.1 116.9,464.1 117.6,467.4 119.6,472.1 120.9,476.8 122.0,481.5 122.8,483.6 126.1,492.0 128.7,497.0 132.0,505.4 135.4,513.8 137.7,520.0 140.2,526.7 141.9,532.6 143.6,538.5 145.2,545.2 146.9,551.0 150.3,555.2 153.6,560.3 160.3,564.0 164.4,570.2 169.3,579.1 173.3,583.2 177.4,586.2 187.5,587.3 189.5,598.4 192.5,604.0 198.6,609.0 206.6,614.5 214.0,619.0 220.0,621.5 235.9,622.5 235.9,625.9 242.7,625.9 243.5,632.6 304.7,632.6 304.7,708.1 243.5,708.1 243.5,697.2 235.9,697.2 235.9,694.5 222.3,694.0 212.2,690.6 206.2,686.6 200.1,680.5 194.1,676.5 192.1,668.0 190.1,664.5 188.5,656.1 178.4,654.4 174.2,650.2 171.7,644.3 165.3,640.0 158.2,632.5 151.2,621.4 145.1,607.3 140.1,594.2 135.1,583.2 131.0,570.1 128.0,560.0 122.6,551.9 118.4,542.6 99.1,542.3" fill="#d05b5b" fill-opacity="0.5"/>
<polyline points="92.0,456.7 98.0,458.0 102.8,469.8 109.5,476.5 112.2,476.8 115.1,482.4 118.4,488.4 119.4,493.8 120.8,500.5 122.4,505.9 124.5,511.9 125.8,515.0 127.6,520.0 130.1,526.7 132.7,532.6 134.3,541.0 137.7,551.0 141.0,555.2 142.7,562.0 143.6,568.7 151.2,582.2 153.2,590.2 158.2,594.2 165.3,600.3 167.3,609.3 173.3,614.4 179.2,618.4 187.6,619.5 188.5,625.9 191.8,633.4 194.3,641.0 198.5,644.3 203.6,648.5 209.4,652.7 217.0,656.9 220.0,659.4 235.9,660.3 241.0,664.0 243.5,670.3 243.5,673.7 305.6,673.7 305.6,680.3 539.8,680.3" fill="none" stroke="#ab3329" stroke-width="1.5" stroke-linejoin="round" stroke-linecap="butt"/>
<g fill="none" stroke="#3b55a5" stroke-width="2.0" stroke-linejoin="round"><path d="M92.7 456.9L95.2 458.4L97.3 460.4L99.1 462.8L100.6 465.4L102.0 468.1L103.4 470.7L104.8 473.4L106.1 476.1L107.2 478.9L108.1 481.7L109.1 484.6L110.0 487.5L111.0 490.3L111.9 493.2L112.9 496.1L113.7 499.0L114.6 501.8L115.4 504.7L116.3 507.6L117.2 510.5L118.1 513.4L119.1 516.2L120.3 519.0L121.4 521.8L122.4 524.6L123.5 527.5L124.5 530.3L125.6 533.1L126.7 535.9L127.7 538.8L128.7 541.6L129.7 544.5L130.7 547.3L131.6 550.2L132.5 553.1L133.3 556.0L134.1 558.9L135.0 561.7L136.0 564.6L137.1 567.4L138.2 570.2L139.3 573.0L140.5 575.8L141.8 578.5L143.1 581.2L144.4 584.0L145.7 586.7L147.0 589.4L148.3 592.1L149.7 594.8L151.0 597.5L152.3 600.2L153.7 602.9L155.0 605.6L156.4 608.3L157.8 611.0L159.3 613.6L160.8 616.2L162.4 618.8L163.9 621.4L165.5 623.9L167.2 626.4L168.9 628.9L170.6 631.4L172.4 633.8L174.2 636.2L176.0 638.7L177.9 641.0L179.9 643.2L182.0 645.4L184.1 647.6L186.3 649.7L188.5 651.7L190.7 653.8L192.9 655.8L195.1 657.8L197.5 659.8L199.9 661.6L202.3 663.3L204.8 665.0L207.3 666.7L209.9 668.3L212.5 669.8L215.2 671.2L217.9 672.5L220.6 673.9L223.3 675.3L225.9 676.6L228.6 678.0L231.3 679.3L234.1 680.6L236.8 681.8L239.7 682.9L242.5 683.9L245.3 685.0L248.1 686.1L251.0 687.1L253.8 688.0L256.7 688.9L259.6 689.7L262.5 690.6L265.4 691.5L268.3 692.3L271.2 693.2L274.0 694.1L276.9 695.0L279.8 695.8L282.7 696.7L285.6 697.4L288.6 698.1L291.5 698.7L294.5 699.4L297.4 700.0L300.4 700.7L303.3 701.3L306.3 702.0L309.2 702.6L312.1 703.3L315.1 704.0L318.0 704.5L321.0 705.0L324.0 705.5L327.0 705.9L330.0 706.4L332.9 706.8L335.9 707.3L338.9 707.7L341.9 708.2L344.9 708.6L347.9 709.0L350.8 709.5L353.8 709.9L356.8 710.3L359.8 710.7L362.8 711.0L365.8 711.3L368.8 711.6L371.8 711.9L374.8 712.2L377.8 712.5L380.8 712.7L383.8 713.0L386.8 713.2L389.8 713.5L392.8 713.7L395.9 714.0L398.9 714.2L401.9 714.5L404.9 714.7L407.9 715.0L410.9 715.2L413.9 715.4L416.9 715.7L419.9 716.1L422.9 716.4L425.9 716.8L428.9 717.2L431.9 717.5L434.9 717.6L437.9 717.8L440.9 718.0L443.9 718.1L446.9 718.3L449.9 718.4L453.0 718.6L456.0 718.7L459.0 718.9L462.0 719.0L465.0 719.2L468.0 719.3L471.0 719.4L474.0 719.5L477.1 719.6L480.1 719.7L483.1 719.9L486.1 720.0L489.1 720.1L492.1 720.2L495.1 720.3L498.2 720.4L501.2 720.5L504.2 720.6L505.7 720.7"/><path d="M93.6 456.9L96.1 458.4L98.3 460.4L100.0 462.8L101.5 465.4L102.9 468.1L104.3 470.7L105.7 473.4L107.0 476.1L108.1 478.9L109.1 481.7L110.0 484.6L111.0 487.5L111.9 490.3L112.9 493.2L113.8 496.1L114.7 499.0L115.5 501.8L116.4 504.7L117.2 507.6L118.1 510.5L119.0 513.4L120.1 516.2L121.2 519.0L122.3 521.8L123.4 524.6L124.4 527.5L125.5 530.3L126.5 533.1L127.6 535.9L128.6 538.8L129.6 541.6L130.6 544.5L131.6 547.3L132.6 550.2L133.4 553.1L134.2 556.0L135.0 558.9L135.9 561.7L137.0 564.6L138.1 567.4L139.1 570.2L140.3 573.0L141.5 575.8L142.7 578.5L144.0 581.2L145.3 584.0L146.6 586.7L147.9 589.4L149.3 592.1L150.6 594.8L151.9 597.5L153.3 600.2L154.6 602.9L156.0 605.6L157.3 608.3L158.7 611.0L160.2 613.6L161.8 616.2L163.3 618.8L164.8 621.4L166.5 623.9L168.1 626.4L169.8 628.9L171.6 631.4L173.3 633.8L175.1 636.2L176.9 638.7L178.8 641.0L180.9 643.2L182.9 645.4L185.1 647.6L187.2 649.7L189.4 651.7L191.6 653.8L193.8 655.8L196.1 657.8L198.4 659.8L200.8 661.6L203.3 663.3L205.8 665.0L208.3 666.7L210.8 668.3L213.5 669.8L216.1 671.2L218.8 672.5L221.5 673.9L224.2 675.3L226.9 676.6L229.6 678.0L232.3 679.3L235.0 680.6L237.8 681.8L240.6 682.9L243.4 683.9L246.2 685.0L249.1 686.1L251.9 687.1L254.8 688.0L257.6 688.9L260.5 689.7L263.4 690.6L266.3 691.5L269.2 692.3L272.1 693.2L275.0 694.1L277.9 695.0L280.8 695.8L283.6 696.7L286.6 697.4L289.5 698.1L292.5 698.7L295.4 699.4L298.3 700.0L301.3 700.7L304.2 701.3L307.2 702.0L310.1 702.6L313.1 703.3L316.0 704.0L319.0 704.5L321.9 705.0L324.9 705.5L327.9 705.9L330.9 706.4L333.9 706.8L336.9 707.3L339.8 707.7L342.8 708.2L345.8 708.6L348.8 709.0L351.8 709.5L354.8 709.9L357.7 710.3L360.7 710.7L363.7 711.0L366.7 711.3L369.7 711.6L372.7 711.9L375.7 712.2L378.8 712.5L381.8 712.7L384.8 713.0L387.8 713.2L390.8 713.5L393.8 713.7L396.8 714.0L399.8 714.2L402.8 714.5L405.8 714.7L408.8 715.0L411.8 715.2L414.8 715.4L417.8 715.7L420.8 716.1L423.8 716.4L426.8 716.8L429.8 717.2L432.8 717.5L435.8 717.6L438.8 717.8L441.8 718.0L444.9 718.1L447.9 718.3L450.9 718.4L453.9 718.6L456.9 718.7L459.9 718.9L462.9 719.0L465.9 719.2L469.0 719.3L472.0 719.4L475.0 719.5L478.0 719.6L481.0 719.7L484.0 719.9L487.0 720.0L490.1 720.1L493.1 720.2L496.1 720.3L499.1 720.4L502.1 720.5L505.1 720.6L506.6 720.7"/><path d="M94.6 456.9L97.1 458.4L99.2 460.4L101.0 462.8L102.5 465.4L103.9 468.1L105.2 470.7L106.7 473.4L108.0 476.1L109.0 478.9L110.0 481.7L110.9 484.6L111.9 487.5L112.9 490.3L113.8 493.2L114.7 496.1L115.6 499.0L116.4 501.8L117.3 504.7L118.2 507.6L119.0 510.5L120.0 513.4L121.0 516.2L122.1 519.0L123.2 521.8L124.3 524.6L125.3 527.5L126.4 530.3L127.5 533.1L128.5 535.9L129.6 538.8L130.6 541.6L131.6 544.5L132.6 547.3L133.5 550.2L134.3 553.1L135.1 556.0L135.9 558.9L136.9 561.7L137.9 564.6L139.0 567.4L140.1 570.2L141.2 573.0L142.4 575.8L143.7 578.5L145.0 581.2L146.2 584.0L147.5 586.7L148.9 589.4L150.2 592.1L151.5 594.8L152.9 597.5L154.2 600.2L155.6 602.9L156.9 605.6L158.2 608.3L159.7 611.0L161.2 613.6L162.7 616.2L164.2 618.8L165.8 621.4L167.4 623.9L169.0 626.4L170.8 628.9L172.5 631.4L174.3 633.8L176.1 636.2L177.9 638.7L179.8 641.0L181.8 643.2L183.9 645.4L186.0 647.6L188.1 649.7L190.3 651.7L192.5 653.8L194.8 655.8L197.0 657.8L199.3 659.8L201.7 661.6L204.2 663.3L206.7 665.0L209.2 666.7L211.8 668.3L214.4 669.8L217.1 671.2L219.7 672.5L222.4 673.9L225.1 675.3L227.8 676.6L230.5 678.0L233.2 679.3L235.9 680.6L238.7 681.8L241.5 682.9L244.3 683.9L247.2 685.0L250.0 686.1L252.8 687.1L255.7 688.0L258.6 688.9L261.5 689.7L264.4 690.6L267.3 691.5L270.1 692.3L273.0 693.2L275.9 694.1L278.8 695.0L281.7 695.8L284.6 696.7L287.5 697.4L290.4 698.1L293.4 698.7L296.3 699.4L299.3 700.0L302.2 700.7L305.2 701.3L308.1 702.0L311.1 702.6L314.0 703.3L316.9 704.0L319.9 704.5L322.9 705.0L325.9 705.5L328.8 705.9L331.8 706.4L334.8 706.8L337.8 707.3L340.8 707.7L343.8 708.2L346.7 708.6L349.7 709.0L352.7 709.5L355.7 709.9L358.7 710.3L361.7 710.7L364.7 711.0L367.7 711.3L370.7 711.6L373.7 711.9L376.7 712.2L379.7 712.5L382.7 712.7L385.7 713.0L388.7 713.2L391.7 713.5L394.7 713.7L397.7 714.0L400.7 714.2L403.7 714.5L406.7 714.7L409.7 715.0L412.8 715.2L415.8 715.4L418.8 715.7L421.8 716.1L424.8 716.4L427.7 716.8L430.7 717.2L433.7 717.5L436.7 717.6L439.8 717.8L442.8 718.0L445.8 718.1L448.8 718.3L451.8 718.4L454.8 718.6L457.8 718.7L460.8 718.9L463.9 719.0L466.9 719.2L469.9 719.3L472.9 719.4L475.9 719.5L478.9 719.6L481.9 719.7L485.0 719.9L488.0 720.0L491.0 720.1L494.0 720.2L497.0 720.3L500.0 720.4L503.0 720.5L506.1 720.6L507.6 720.7"/><path d="M95.5 456.9L98.0 458.4L100.1 460.4L101.9 462.8L103.4 465.4L104.8 468.1L106.2 470.7L107.6 473.4L108.9 476.1L110.0 478.9L110.9 481.7L111.9 484.6L112.8 487.5L113.8 490.3L114.7 493.2L115.7 496.1L116.5 499.0L117.4 501.8L118.2 504.7L119.1 507.6L120.0 510.5L120.9 513.4L121.9 516.2L123.1 519.0L124.2 521.8L125.2 524.6L126.3 527.5L127.3 530.3L128.4 533.1L129.5 535.9L130.5 538.8L131.5 541.6L132.5 544.5L133.5 547.3L134.4 550.2L135.3 553.1L136.1 556.0L136.9 558.9L137.8 561.7L138.8 564.6L139.9 567.4L141.0 570.2L142.1 573.0L143.3 575.8L144.6 578.5L145.9 581.2L147.2 584.0L148.5 586.7L149.8 589.4L151.1 592.1L152.5 594.8L153.8 597.5L155.1 600.2L156.5 602.9L157.8 605.6L159.2 608.3L160.6 611.0L162.1 613.6L163.6 616.2L165.2 618.8L166.7 621.4L168.3 623.9L170.0 626.4L171.7 628.9L173.4 631.4L175.2 633.8L177.0 636.2L178.8 638.7L180.7 641.0L182.7 643.2L184.8 645.4L186.9 647.6L189.1 649.7L191.3 651.7L193.5 653.8L195.7 655.8L197.9 657.8L200.3 659.8L202.7 661.6L205.1 663.3L207.6 665.0L210.1 666.7L212.7 668.3L215.3 669.8L218.0 671.2L220.7 672.5L223.4 673.9L226.1 675.3L228.7 676.6L231.4 678.0L234.1 679.3L236.9 680.6L239.6 681.8L242.5 682.9L245.3 683.9L248.1 685.0L250.9 686.1L253.8 687.1L256.6 688.0L259.5 688.9L262.4 689.7L265.3 690.6L268.2 691.5L271.1 692.3L274.0 693.2L276.8 694.1L279.7 695.0L282.6 695.8L285.5 696.7L288.4 697.4L291.4 698.1L294.3 698.7L297.3 699.4L300.2 700.0L303.2 700.7L306.1 701.3L309.1 702.0L312.0 702.6L314.9 703.3L317.9 704.0L320.8 704.5L323.8 705.0L326.8 705.5L329.8 705.9L332.8 706.4L335.7 706.8L338.7 707.3L341.7 707.7L344.7 708.2L347.7 708.6L350.7 709.0L353.6 709.5L356.6 709.9L359.6 710.3L362.6 710.7L365.6 711.0L368.6 711.3L371.6 711.6L374.6 711.9L377.6 712.2L380.6 712.5L383.6 712.7L386.6 713.0L389.6 713.2L392.6 713.5L395.6 713.7L398.7 714.0L401.7 714.2L404.7 714.5L407.7 714.7L410.7 715.0L413.7 715.2L416.7 715.4L419.7 715.7L422.7 716.1L425.7 716.4L428.7 716.8L431.7 717.2L434.7 717.5L437.7 717.6L440.7 717.8L443.7 718.0L446.7 718.1L449.7 718.3L452.7 718.4L455.8 718.6L458.8 718.7L461.8 718.9L464.8 719.0L467.8 719.2L470.8 719.3L473.8 719.4L476.8 719.5L479.9 719.6L482.9 719.7L485.9 719.9L488.9 720.0L491.9 720.1L494.9 720.2L497.9 720.3L501.0 720.4L504.0 720.5L507.0 720.6L508.5 720.7"/><path d="M96.4 456.9L98.9 458.4L101.1 460.4L102.8 462.8L104.3 465.4L105.7 468.1L107.1 470.7L108.5 473.4L109.8 476.1L110.9 478.9L111.9 481.7L112.8 484.6L113.8 487.5L114.7 490.3L115.7 493.2L116.6 496.1L117.5 499.0L118.3 501.8L119.2 504.7L120.0 507.6L120.9 510.5L121.8 513.4L122.9 516.2L124.0 519.0L125.1 521.8L126.2 524.6L127.2 527.5L128.3 530.3L129.3 533.1L130.4 535.9L131.4 538.8L132.4 541.6L133.4 544.5L134.4 547.3L135.4 550.2L136.2 553.1L137.0 556.0L137.8 558.9L138.7 561.7L139.8 564.6L140.9 567.4L141.9 570.2L143.1 573.0L144.3 575.8L145.5 578.5L146.8 581.2L148.1 584.0L149.4 586.7L150.7 589.4L152.1 592.1L153.4 594.8L154.7 597.5L156.1 600.2L157.4 602.9L158.8 605.6L160.1 608.3L161.5 611.0L163.0 613.6L164.6 616.2L166.1 618.8L167.6 621.4L169.3 623.9L170.9 626.4L172.6 628.9L174.4 631.4L176.1 633.8L177.9 636.2L179.7 638.7L181.6 641.0L183.7 643.2L185.7 645.4L187.9 647.6L190.0 649.7L192.2 651.7L194.4 653.8L196.6 655.8L198.9 657.8L201.2 659.8L203.6 661.6L206.1 663.3L208.6 665.0L211.1 666.7L213.6 668.3L216.3 669.8L218.9 671.2L221.6 672.5L224.3 673.9L227.0 675.3L229.7 676.6L232.4 678.0L235.1 679.3L237.8 680.6L240.6 681.8L243.4 682.9L246.2 683.9L249.0 685.0L251.9 686.1L254.7 687.1L257.6 688.0L260.4 688.9L263.3 689.7L266.2 690.6L269.1 691.5L272.0 692.3L274.9 693.2L277.8 694.1L280.7 695.0L283.6 695.8L286.4 696.7L289.4 697.4L292.3 698.1L295.3 698.7L298.2 699.4L301.1 700.0L304.1 700.7L307.0 701.3L310.0 702.0L312.9 702.6L315.9 703.3L318.8 704.0L321.8 704.5L324.7 705.0L327.7 705.5L330.7 705.9L333.7 706.4L336.7 706.8L339.7 707.3L342.6 707.7L345.6 708.2L348.6 708.6L351.6 709.0L354.6 709.5L357.6 709.9L360.5 710.3L363.5 710.7L366.5 711.0L369.5 711.3L372.5 711.6L375.5 711.9L378.5 712.2L381.6 712.5L384.6 712.7L387.6 713.0L390.6 713.2L393.6 713.5L396.6 713.7L399.6 714.0L402.6 714.2L405.6 714.5L408.6 714.7L411.6 715.0L414.6 715.2L417.6 715.4L420.6 715.7L423.6 716.1L426.6 716.4L429.6 716.8L432.6 717.2L435.6 717.5L438.6 717.6L441.6 717.8L444.6 718.0L447.7 718.1L450.7 718.3L453.7 718.4L456.7 718.6L459.7 718.7L462.7 718.9L465.7 719.0L468.7 719.2L471.8 719.3L474.8 719.4L477.8 719.5L480.8 719.6L483.8 719.7L486.8 719.9L489.8 720.0L492.9 720.1L495.9 720.2L498.9 720.3L501.9 720.4L504.9 720.5L507.9 720.6L509.4 720.7"/><path d="M97.4 456.9L99.9 458.4L102.0 460.4L103.8 462.8L105.3 465.4L106.7 468.1L108.0 470.7L109.5 473.4L110.8 476.1L111.8 478.9L112.8 481.7L113.7 484.6L114.7 487.5L115.7 490.3L116.6 493.2L117.5 496.1L118.4 499.0L119.2 501.8L120.1 504.7L121.0 507.6L121.8 510.5L122.8 513.4L123.8 516.2L124.9 519.0L126.0 521.8L127.1 524.6L128.1 527.5L129.2 530.3L130.3 533.1L131.3 535.9L132.4 538.8L133.4 541.6L134.4 544.5L135.4 547.3L136.3 550.2L137.1 553.1L137.9 556.0L138.7 558.9L139.7 561.7L140.7 564.6L141.8 567.4L142.9 570.2L144.0 573.0L145.2 575.8L146.5 578.5L147.8 581.2L149.0 584.0L150.3 586.7L151.7 589.4L153.0 592.1L154.3 594.8L155.7 597.5L157.0 600.2L158.4 602.9L159.7 605.6L161.0 608.3L162.5 611.0L164.0 613.6L165.5 616.2L167.0 618.8L168.6 621.4L170.2 623.9L171.8 626.4L173.6 628.9L175.3 631.4L177.1 633.8L178.9 636.2L180.7 638.7L182.6 641.0L184.6 643.2L186.7 645.4L188.8 647.6L190.9 649.7L193.1 651.7L195.3 653.8L197.6 655.8L199.8 657.8L202.1 659.8L204.5 661.6L207.0 663.3L209.5 665.0L212.0 666.7L214.6 668.3L217.2 669.8L219.9 671.2L222.5 672.5L225.2 673.9L227.9 675.3L230.6 676.6L233.3 678.0L236.0 679.3L238.7 680.6L241.5 681.8L244.3 682.9L247.1 683.9L250.0 685.0L252.8 686.1L255.6 687.1L258.5 688.0L261.4 688.9L264.3 689.7L267.2 690.6L270.1 691.5L272.9 692.3L275.8 693.2L278.7 694.1L281.6 695.0L284.5 695.8L287.4 696.7L290.3 697.4L293.2 698.1L296.2 698.7L299.1 699.4L302.1 700.0L305.0 700.7L308.0 701.3L310.9 702.0L313.9 702.6L316.8 703.3L319.7 704.0L322.7 704.5L325.7 705.0L328.7 705.5L331.6 705.9L334.6 706.4L337.6 706.8L340.6 707.3L343.6 707.7L346.6 708.2L349.5 708.6L352.5 709.0L355.5 709.5L358.5 709.9L361.5 710.3L364.5 710.7L367.5 711.0L370.5 711.3L373.5 711.6L376.5 711.9L379.5 712.2L382.5 712.5L385.5 712.7L388.5 713.0L391.5 713.2L394.5 713.5L397.5 713.7L400.5 714.0L403.5 714.2L406.5 714.5L409.5 714.7L412.5 715.0L415.6 715.2L418.6 715.4L421.6 715.7L424.6 716.1L427.6 716.4L430.5 716.8L433.5 717.2L436.5 717.5L439.5 717.6L442.6 717.8L445.6 718.0L448.6 718.1L451.6 718.3L454.6 718.4L457.6 718.6L460.6 718.7L463.6 718.9L466.7 719.0L469.7 719.2L472.7 719.3L475.7 719.4L478.7 719.5L481.7 719.6L484.7 719.7L487.8 719.9L490.8 720.0L493.8 720.1L496.8 720.2L499.8 720.3L502.8 720.4L505.8 720.5L508.9 720.6L510.4 720.7"/><path d="M98.3 456.9L100.8 458.4L102.9 460.4L104.7 462.8L106.2 465.4L107.6 468.1L109.0 470.7L110.4 473.4L111.7 476.1L112.8 478.9L113.7 481.7L114.7 484.6L115.6 487.5L116.6 490.3L117.5 493.2L118.5 496.1L119.3 499.0L120.2 501.8L121.0 504.7L121.9 507.6L122.8 510.5L123.7 513.4L124.7 516.2L125.9 519.0L127.0 521.8L128.0 524.6L129.1 527.5L130.1 530.3L131.2 533.1L132.3 535.9L133.3 538.8L134.3 541.6L135.3 544.5L136.3 547.3L137.2 550.2L138.1 553.1L138.9 556.0L139.7 558.9L140.6 561.7L141.6 564.6L142.7 567.4L143.8 570.2L144.9 573.0L146.1 575.8L147.4 578.5L148.7 581.2L150.0 584.0L151.3 586.7L152.6 589.4L153.9 592.1L155.3 594.8L156.6 597.5L157.9 600.2L159.3 602.9L160.6 605.6L162.0 608.3L163.4 611.0L164.9 613.6L166.4 616.2L168.0 618.8L169.5 621.4L171.1 623.9L172.8 626.4L174.5 628.9L176.2 631.4L178.0 633.8L179.8 636.2L181.6 638.7L183.5 641.0L185.5 643.2L187.6 645.4L189.7 647.6L191.9 649.7L194.1 651.7L196.3 653.8L198.5 655.8L200.7 657.8L203.1 659.8L205.5 661.6L207.9 663.3L210.4 665.0L212.9 666.7L215.5 668.3L218.1 669.8L220.8 671.2L223.5 672.5L226.2 673.9L228.9 675.3L231.5 676.6L234.2 678.0L236.9 679.3L239.7 680.6L242.4 681.8L245.3 682.9L248.1 683.9L250.9 685.0L253.7 686.1L256.6 687.1L259.4 688.0L262.3 688.9L265.2 689.7L268.1 690.6L271.0 691.5L273.9 692.3L276.8 693.2L279.6 694.1L282.5 695.0L285.4 695.8L288.3 696.7L291.2 697.4L294.2 698.1L297.1 698.7L300.1 699.4L303.0 700.0L306.0 700.7L308.9 701.3L311.9 702.0L314.8 702.6L317.7 703.3L320.7 704.0L323.6 704.5L326.6 705.0L329.6 705.5L332.6 705.9L335.6 706.4L338.5 706.8L341.5 707.3L344.5 707.7L347.5 708.2L350.5 708.6L353.5 709.0L356.4 709.5L359.4 709.9L362.4 710.3L365.4 710.7L368.4 711.0L371.4 711.3L374.4 711.6L377.4 711.9L380.4 712.2L383.4 712.5L386.4 712.7L389.4 713.0L392.4 713.2L395.4 713.5L398.4 713.7L401.5 714.0L404.5 714.2L407.5 714.5L410.5 714.7L413.5 715.0L416.5 715.2L419.5 715.4L422.5 715.7L425.5 716.1L428.5 716.4L431.5 716.8L434.5 717.2L437.5 717.5L440.5 717.6L443.5 717.8L446.5 718.0L449.5 718.1L452.5 718.3L455.5 718.4L458.6 718.6L461.6 718.7L464.6 718.9L467.6 719.0L470.6 719.2L473.6 719.3L476.6 719.4L479.6 719.5L482.7 719.6L485.7 719.7L488.7 719.9L491.7 720.0L494.7 720.1L497.7 720.2L500.7 720.3L503.8 720.4L506.8 720.5L509.8 720.6L511.3 720.7"/><path d="M95.5 454.1L98.0 455.6L100.1 457.6L101.9 460.0L103.4 462.6L104.8 465.3L106.2 467.9L107.6 470.6L108.9 473.3L110.0 476.1L110.9 478.9L111.9 481.8L112.8 484.7L113.8 487.5L114.7 490.4L115.7 493.3L116.5 496.2L117.4 499.0L118.2 501.9L119.1 504.8L120.0 507.7L120.9 510.6L121.9 513.4L123.1 516.2L124.2 519.0L125.2 521.8L126.3 524.7L127.3 527.5L128.4 530.3L129.5 533.1L130.5 536.0L131.5 538.8L132.5 541.7L133.5 544.5L134.4 547.4L135.3 550.3L136.1 553.2L136.9 556.1L137.8 558.9L138.8 561.8L139.9 564.6L141.0 567.4L142.1 570.2L143.3 573.0L144.6 575.7L145.9 578.4L147.2 581.2L148.5 583.9L149.8 586.6L151.1 589.3L152.5 592.0L153.8 594.7L155.1 597.4L156.5 600.1L157.8 602.8L159.2 605.5L160.6 608.2L162.1 610.8L163.6 613.4L165.2 616.0L166.7 618.6L168.3 621.1L170.0 623.6L171.7 626.1L173.4 628.6L175.2 631.0L177.0 633.4L178.8 635.9L180.7 638.2L182.7 640.4L184.8 642.6L186.9 644.8L189.1 646.9L191.3 648.9L193.5 651.0L195.7 653.0L197.9 655.0L200.3 657.0L202.7 658.8L205.1 660.5L207.6 662.2L210.1 663.9L212.7 665.5L215.3 667.0L218.0 668.4L220.7 669.7L223.4 671.1L226.1 672.5L228.7 673.8L231.4 675.2L234.1 676.5L236.9 677.8L239.6 679.0L242.5 680.1L245.3 681.1L248.1 682.2L250.9 683.3L253.8 684.3L256.6 685.2L259.5 686.1L262.4 686.9L265.3 687.8L268.2 688.7L271.1 689.5L274.0 690.4L276.8 691.3L279.7 692.2L282.6 693.0L285.5 693.9L288.4 694.6L291.4 695.3L294.3 695.9L297.3 696.6L300.2 697.2L303.2 697.9L306.1 698.5L309.1 699.2L312.0 699.8L314.9 700.5L317.9 701.2L320.8 701.7L323.8 702.2L326.8 702.7L329.8 703.1L332.8 703.6L335.7 704.0L338.7 704.5L341.7 704.9L344.7 705.4L347.7 705.8L350.7 706.2L353.6 706.7L356.6 707.1L359.6 707.5L362.6 707.9L365.6 708.2L368.6 708.5L371.6 708.8L374.6 709.1L377.6 709.4L380.6 709.7L383.6 709.9L386.6 710.2L389.6 710.4L392.6 710.7L395.6 710.9L398.7 711.2L401.7 711.4L404.7 711.7L407.7 711.9L410.7 712.2L413.7 712.4L416.7 712.6L419.7 712.9L422.7 713.3L425.7 713.6L428.7 714.0L431.7 714.4L434.7 714.7L437.7 714.8L440.7 715.0L443.7 715.2L446.7 715.3L449.7 715.5L452.7 715.6L455.8 715.8L458.8 715.9L461.8 716.1L464.8 716.2L467.8 716.4L470.8 716.5L473.8 716.6L476.8 716.7L479.9 716.8L482.9 716.9L485.9 717.1L488.9 717.2L491.9 717.3L494.9 717.4L497.9 717.5L501.0 717.6L504.0 717.7L507.0 717.8L508.5 717.9"/><path d="M95.5 455.0L98.0 456.5L100.1 458.5L101.9 460.9L103.4 463.5L104.8 466.2L106.2 468.9L107.6 471.5L108.9 474.2L110.0 477.0L110.9 479.9L111.9 482.7L112.8 485.6L113.8 488.5L114.7 491.3L115.7 494.2L116.5 497.1L117.4 500.0L118.2 502.9L119.1 505.8L120.0 508.7L120.9 511.5L121.9 514.4L123.1 517.1L124.2 520.0L125.2 522.8L126.3 525.6L127.3 528.4L128.4 531.3L129.5 534.1L130.5 536.9L131.5 539.7L132.5 542.6L133.5 545.4L134.4 548.3L135.3 551.2L136.1 554.1L136.9 557.0L137.8 559.9L138.8 562.7L139.9 565.5L141.0 568.3L142.1 571.1L143.3 573.9L144.6 576.6L145.9 579.4L147.2 582.1L148.5 584.8L149.8 587.5L151.1 590.2L152.5 592.9L153.8 595.6L155.1 598.3L156.5 601.0L157.8 603.7L159.2 606.4L160.6 609.1L162.1 611.7L163.6 614.3L165.2 616.9L166.7 619.5L168.3 622.0L170.0 624.6L171.7 627.0L173.4 629.5L175.2 631.9L177.0 634.4L178.8 636.8L180.7 639.1L182.7 641.4L184.8 643.5L186.9 645.7L189.1 647.8L191.3 649.9L193.5 651.9L195.7 654.0L197.9 656.0L200.3 657.9L202.7 659.7L205.1 661.4L207.6 663.1L210.1 664.8L212.7 666.4L215.3 667.9L218.0 669.3L220.7 670.7L223.4 672.0L226.1 673.4L228.7 674.8L231.4 676.1L234.1 677.5L236.9 678.7L239.6 679.9L242.5 681.0L245.3 682.1L248.1 683.1L250.9 684.2L253.8 685.2L256.6 686.1L259.5 687.0L262.4 687.9L265.3 688.7L268.2 689.6L271.1 690.5L274.0 691.3L276.8 692.2L279.7 693.1L282.6 694.0L285.5 694.8L288.4 695.6L291.4 696.2L294.3 696.9L297.3 697.5L300.2 698.1L303.2 698.8L306.1 699.4L309.1 700.1L312.0 700.8L314.9 701.4L317.9 702.1L320.8 702.7L323.8 703.2L326.8 703.6L329.8 704.1L332.8 704.5L335.7 705.0L338.7 705.4L341.7 705.8L344.7 706.3L347.7 706.7L350.7 707.2L353.6 707.6L356.6 708.1L359.6 708.5L362.6 708.8L365.6 709.1L368.6 709.4L371.6 709.7L374.6 710.0L377.6 710.3L380.6 710.6L383.6 710.9L386.6 711.1L389.6 711.4L392.6 711.6L395.6 711.9L398.7 712.1L401.7 712.4L404.7 712.6L407.7 712.8L410.7 713.1L413.7 713.3L416.7 713.6L419.7 713.9L422.7 714.2L425.7 714.6L428.7 715.0L431.7 715.3L434.7 715.6L437.7 715.8L440.7 715.9L443.7 716.1L446.7 716.2L449.7 716.4L452.7 716.6L455.8 716.7L458.8 716.9L461.8 717.0L464.8 717.2L467.8 717.3L470.8 717.4L473.8 717.5L476.8 717.6L479.9 717.8L482.9 717.9L485.9 718.0L488.9 718.1L491.9 718.2L494.9 718.3L497.9 718.4L501.0 718.6L504.0 718.7L507.0 718.8L508.5 718.8"/><path d="M95.5 456.0L98.0 457.5L100.1 459.4L101.9 461.8L103.4 464.4L104.8 467.1L106.2 469.8L107.6 472.5L108.9 475.1L110.0 478.0L110.9 480.8L111.9 483.7L112.8 486.5L113.8 489.4L114.7 492.3L115.7 495.1L116.5 498.0L117.4 500.9L118.2 503.8L119.1 506.7L120.0 509.6L120.9 512.5L121.9 515.3L123.1 518.1L124.2 520.9L125.2 523.7L126.3 526.5L127.3 529.4L128.4 532.2L129.5 535.0L130.5 537.8L131.5 540.7L132.5 543.5L133.5 546.4L134.4 549.2L135.3 552.1L136.1 555.0L136.9 557.9L137.8 560.8L138.8 563.6L139.9 566.5L141.0 569.3L142.1 572.1L143.3 574.8L144.6 577.6L145.9 580.3L147.2 583.0L148.5 585.8L149.8 588.5L151.1 591.2L152.5 593.9L153.8 596.6L155.1 599.3L156.5 602.0L157.8 604.7L159.2 607.4L160.6 610.0L162.1 612.6L163.6 615.2L165.2 617.8L166.7 620.4L168.3 623.0L170.0 625.5L171.7 628.0L173.4 630.4L175.2 632.9L177.0 635.3L178.8 637.7L180.7 640.1L182.7 642.3L184.8 644.5L186.9 646.6L189.1 648.7L191.3 650.8L193.5 652.9L195.7 654.9L197.9 656.9L200.3 658.8L202.7 660.6L205.1 662.4L207.6 664.1L210.1 665.7L212.7 667.3L215.3 668.8L218.0 670.2L220.7 671.6L223.4 673.0L226.1 674.3L228.7 675.7L231.4 677.1L234.1 678.4L236.9 679.7L239.6 680.8L242.5 681.9L245.3 683.0L248.1 684.1L250.9 685.1L253.8 686.1L256.6 687.1L259.5 687.9L262.4 688.8L265.3 689.7L268.2 690.5L271.1 691.4L274.0 692.3L276.8 693.2L279.7 694.0L282.6 694.9L285.5 695.8L288.4 696.5L291.4 697.2L294.3 697.8L297.3 698.4L300.2 699.1L303.2 699.7L306.1 700.4L309.1 701.0L312.0 701.7L314.9 702.4L317.9 703.0L320.8 703.6L323.8 704.1L326.8 704.6L329.8 705.0L332.8 705.4L335.7 705.9L338.7 706.3L341.7 706.8L344.7 707.2L347.7 707.7L350.7 708.1L353.6 708.5L356.6 709.0L359.6 709.4L362.6 709.8L365.6 710.1L368.6 710.4L371.6 710.7L374.6 711.0L377.6 711.3L380.6 711.6L383.6 711.8L386.6 712.1L389.6 712.3L392.6 712.6L395.6 712.8L398.7 713.1L401.7 713.3L404.7 713.5L407.7 713.8L410.7 714.0L413.7 714.3L416.7 714.5L419.7 714.8L422.7 715.1L425.7 715.5L428.7 715.9L431.7 716.3L434.7 716.5L437.7 716.7L440.7 716.9L443.7 717.0L446.7 717.2L449.7 717.3L452.7 717.5L455.8 717.6L458.8 717.8L461.8 718.0L464.8 718.1L467.8 718.2L470.8 718.4L473.8 718.5L476.8 718.6L479.9 718.7L482.9 718.8L485.9 718.9L488.9 719.0L491.9 719.1L494.9 719.3L497.9 719.4L501.0 719.5L504.0 719.6L507.0 719.7L508.5 719.8"/><path d="M95.5 457.8L98.0 459.3L100.1 461.3L101.9 463.7L103.4 466.3L104.8 469.0L106.2 471.7L107.6 474.3L108.9 477.0L110.0 479.8L110.9 482.7L111.9 485.5L112.8 488.4L113.8 491.3L114.7 494.1L115.7 497.0L116.5 499.9L117.4 502.8L118.2 505.7L119.1 508.6L120.0 511.5L120.9 514.3L121.9 517.2L123.1 519.9L124.2 522.8L125.2 525.6L126.3 528.4L127.3 531.2L128.4 534.1L129.5 536.9L130.5 539.7L131.5 542.5L132.5 545.4L133.5 548.2L134.4 551.1L135.3 554.0L136.1 556.9L136.9 559.8L137.8 562.7L138.8 565.5L139.9 568.3L141.0 571.1L142.1 573.9L143.3 576.7L144.6 579.4L145.9 582.2L147.2 584.9L148.5 587.6L149.8 590.3L151.1 593.0L152.5 595.7L153.8 598.4L155.1 601.1L156.5 603.8L157.8 606.5L159.2 609.2L160.6 611.9L162.1 614.5L163.6 617.1L165.2 619.7L166.7 622.3L168.3 624.8L170.0 627.4L171.7 629.8L173.4 632.3L175.2 634.7L177.0 637.2L178.8 639.6L180.7 641.9L182.7 644.2L184.8 646.3L186.9 648.5L189.1 650.6L191.3 652.7L193.5 654.7L195.7 656.8L197.9 658.8L200.3 660.7L202.7 662.5L205.1 664.2L207.6 665.9L210.1 667.6L212.7 669.2L215.3 670.7L218.0 672.1L220.7 673.5L223.4 674.8L226.1 676.2L228.7 677.6L231.4 678.9L234.1 680.3L236.9 681.5L239.6 682.7L242.5 683.8L245.3 684.9L248.1 685.9L250.9 687.0L253.8 688.0L256.6 688.9L259.5 689.8L262.4 690.7L265.3 691.5L268.2 692.4L271.1 693.3L274.0 694.1L276.8 695.0L279.7 695.9L282.6 696.8L285.5 697.6L288.4 698.4L291.4 699.0L294.3 699.7L297.3 700.3L300.2 700.9L303.2 701.6L306.1 702.2L309.1 702.9L312.0 703.6L314.9 704.2L317.9 704.9L320.8 705.5L323.8 706.0L326.8 706.4L329.8 706.9L332.8 707.3L335.7 707.8L338.7 708.2L341.7 708.6L344.7 709.1L347.7 709.5L350.7 710.0L353.6 710.4L356.6 710.9L359.6 711.3L362.6 711.6L365.6 711.9L368.6 712.2L371.6 712.5L374.6 712.8L377.6 713.1L380.6 713.4L383.6 713.7L386.6 713.9L389.6 714.2L392.6 714.4L395.6 714.7L398.7 714.9L401.7 715.2L404.7 715.4L407.7 715.6L410.7 715.9L413.7 716.1L416.7 716.4L419.7 716.7L422.7 717.0L425.7 717.4L428.7 717.8L431.7 718.1L434.7 718.4L437.7 718.6L440.7 718.7L443.7 718.9L446.7 719.0L449.7 719.2L452.7 719.4L455.8 719.5L458.8 719.7L461.8 719.8L464.8 720.0L467.8 720.1L470.8 720.2L473.8 720.3L476.8 720.4L479.9 720.6L482.9 720.7L485.9 720.8L488.9 720.9L491.9 721.0L494.9 721.1L497.9 721.2L501.0 721.4L504.0 721.5L507.0 721.6L508.5 721.6"/><path d="M95.5 458.8L98.0 460.3L100.1 462.2L101.9 464.6L103.4 467.2L104.8 469.9L106.2 472.6L107.6 475.3L108.9 477.9L110.0 480.8L110.9 483.6L111.9 486.5L112.8 489.3L113.8 492.2L114.7 495.1L115.7 497.9L116.5 500.8L117.4 503.7L118.2 506.6L119.1 509.5L120.0 512.4L120.9 515.3L121.9 518.1L123.1 520.9L124.2 523.7L125.2 526.5L126.3 529.3L127.3 532.2L128.4 535.0L129.5 537.8L130.5 540.6L131.5 543.5L132.5 546.3L133.5 549.2L134.4 552.0L135.3 554.9L136.1 557.8L136.9 560.7L137.8 563.6L138.8 566.4L139.9 569.3L141.0 572.1L142.1 574.9L143.3 577.6L144.6 580.4L145.9 583.1L147.2 585.8L148.5 588.6L149.8 591.3L151.1 594.0L152.5 596.7L153.8 599.4L155.1 602.1L156.5 604.8L157.8 607.5L159.2 610.2L160.6 612.8L162.1 615.4L163.6 618.0L165.2 620.6L166.7 623.2L168.3 625.8L170.0 628.3L171.7 630.8L173.4 633.2L175.2 635.7L177.0 638.1L178.8 640.5L180.7 642.9L182.7 645.1L184.8 647.3L186.9 649.4L189.1 651.5L191.3 653.6L193.5 655.7L195.7 657.7L197.9 659.7L200.3 661.6L202.7 663.4L205.1 665.2L207.6 666.9L210.1 668.5L212.7 670.1L215.3 671.6L218.0 673.0L220.7 674.4L223.4 675.8L226.1 677.1L228.7 678.5L231.4 679.9L234.1 681.2L236.9 682.5L239.6 683.6L242.5 684.7L245.3 685.8L248.1 686.9L250.9 687.9L253.8 688.9L256.6 689.9L259.5 690.7L262.4 691.6L265.3 692.5L268.2 693.3L271.1 694.2L274.0 695.1L276.8 696.0L279.7 696.8L282.6 697.7L285.5 698.6L288.4 699.3L291.4 700.0L294.3 700.6L297.3 701.2L300.2 701.9L303.2 702.5L306.1 703.2L309.1 703.8L312.0 704.5L314.9 705.2L317.9 705.8L320.8 706.4L323.8 706.9L326.8 707.4L329.8 707.8L332.8 708.2L335.7 708.7L338.7 709.1L341.7 709.6L344.7 710.0L347.7 710.5L350.7 710.9L353.6 711.3L356.6 711.8L359.6 712.2L362.6 712.6L365.6 712.9L368.6 713.2L371.6 713.5L374.6 713.8L377.6 714.1L380.6 714.4L383.6 714.6L386.6 714.9L389.6 715.1L392.6 715.4L395.6 715.6L398.7 715.9L401.7 716.1L404.7 716.3L407.7 716.6L410.7 716.8L413.7 717.1L416.7 717.3L419.7 717.6L422.7 717.9L425.7 718.3L428.7 718.7L431.7 719.1L434.7 719.3L437.7 719.5L440.7 719.7L443.7 719.8L446.7 720.0L449.7 720.1L452.7 720.3L455.8 720.4L458.8 720.6L461.8 720.8L464.8 720.9L467.8 721.0L470.8 721.2L473.8 721.3L476.8 721.4L479.9 721.5L482.9 721.6L485.9 721.7L488.9 721.8L491.9 721.9L494.9 722.1L497.9 722.2L501.0 722.3L504.0 722.4L507.0 722.5L508.5 722.6"/><path d="M95.5 459.7L98.0 461.2L100.1 463.2L101.9 465.6L103.4 468.2L104.8 470.9L106.2 473.5L107.6 476.2L108.9 478.9L110.0 481.7L110.9 484.5L111.9 487.4L112.8 490.3L113.8 493.1L114.7 496.0L115.7 498.9L116.5 501.8L117.4 504.6L118.2 507.5L119.1 510.4L120.0 513.3L120.9 516.2L121.9 519.0L123.1 521.8L124.2 524.6L125.2 527.4L126.3 530.3L127.3 533.1L128.4 535.9L129.5 538.7L130.5 541.6L131.5 544.4L132.5 547.3L133.5 550.1L134.4 553.0L135.3 555.9L136.1 558.8L136.9 561.7L137.8 564.5L138.8 567.4L139.9 570.2L141.0 573.0L142.1 575.8L143.3 578.6L144.6 581.3L145.9 584.0L147.2 586.8L148.5 589.5L149.8 592.2L151.1 594.9L152.5 597.6L153.8 600.3L155.1 603.0L156.5 605.7L157.8 608.4L159.2 611.1L160.6 613.8L162.1 616.4L163.6 619.0L165.2 621.6L166.7 624.2L168.3 626.7L170.0 629.2L171.7 631.7L173.4 634.2L175.2 636.6L177.0 639.0L178.8 641.5L180.7 643.8L182.7 646.0L184.8 648.2L186.9 650.4L189.1 652.5L191.3 654.5L193.5 656.6L195.7 658.6L197.9 660.6L200.3 662.6L202.7 664.4L205.1 666.1L207.6 667.8L210.1 669.5L212.7 671.1L215.3 672.6L218.0 674.0L220.7 675.3L223.4 676.7L226.1 678.1L228.7 679.4L231.4 680.8L234.1 682.1L236.9 683.4L239.6 684.6L242.5 685.7L245.3 686.7L248.1 687.8L250.9 688.9L253.8 689.9L256.6 690.8L259.5 691.7L262.4 692.5L265.3 693.4L268.2 694.3L271.1 695.1L274.0 696.0L276.8 696.9L279.7 697.8L282.6 698.6L285.5 699.5L288.4 700.2L291.4 700.9L294.3 701.5L297.3 702.2L300.2 702.8L303.2 703.5L306.1 704.1L309.1 704.8L312.0 705.4L314.9 706.1L317.9 706.8L320.8 707.3L323.8 707.8L326.8 708.3L329.8 708.7L332.8 709.2L335.7 709.6L338.7 710.1L341.7 710.5L344.7 711.0L347.7 711.4L350.7 711.8L353.6 712.3L356.6 712.7L359.6 713.1L362.6 713.5L365.6 713.8L368.6 714.1L371.6 714.4L374.6 714.7L377.6 715.0L380.6 715.3L383.6 715.5L386.6 715.8L389.6 716.0L392.6 716.3L395.6 716.5L398.7 716.8L401.7 717.0L404.7 717.3L407.7 717.5L410.7 717.8L413.7 718.0L416.7 718.2L419.7 718.5L422.7 718.9L425.7 719.2L428.7 719.6L431.7 720.0L434.7 720.3L437.7 720.4L440.7 720.6L443.7 720.8L446.7 720.9L449.7 721.1L452.7 721.2L455.8 721.4L458.8 721.5L461.8 721.7L464.8 721.8L467.8 722.0L470.8 722.1L473.8 722.2L476.8 722.3L479.9 722.4L482.9 722.5L485.9 722.7L488.9 722.8L491.9 722.9L494.9 723.0L497.9 723.1L501.0 723.2L504.0 723.3L507.0 723.4L508.5 723.5"/></g>

<path d="M99.7,469.8h6.2M102.8,466.7v6.2M106.4,476.5h6.2M109.5,473.4v6.2M131.2,530.9h6.2M134.3,527.8v6.2M136.1,553.1h6.2M139.2,550.0v6.2M139.5,566.0h6.2M142.6,562.9v6.2M150.1,591.2h6.2M153.2,588.1v6.2M179.3,620.4h6.2M182.4,617.3v6.2M187.0,626.4h6.2M190.1,623.3v6.2M191.1,640.2h6.2M194.2,637.1v6.2M213.9,656.9h6.2M217.0,653.8v6.2M219.4,659.4h6.2M222.5,656.3v6.2M223.6,660.3h6.2M226.7,657.2v6.2M228.6,660.3h6.2M231.7,657.2v6.2M237.9,664.0h6.2M241.0,660.9v6.2M242.1,673.7h6.2M245.2,670.6v6.2M246.3,673.7h6.2M249.4,670.6v6.2M257.2,673.7h6.2M260.3,670.6v6.2M260.5,673.7h6.2M263.6,670.6v6.2M267.2,673.7h6.2M270.3,670.6v6.2M269.8,673.7h6.2M272.9,670.6v6.2M283.2,673.7h6.2M286.3,670.6v6.2M285.7,673.7h6.2M288.8,670.6v6.2M294.9,673.7h6.2M298.0,670.6v6.2M330.2,680.3h6.2M333.3,677.2v6.2M334.2,680.3h6.2M337.3,677.2v6.2M336.2,680.3h6.2M339.3,677.2v6.2M349.3,680.3h6.2M352.4,677.2v6.2M353.3,680.3h6.2M356.4,677.2v6.2M378.5,680.3h6.2M381.6,677.2v6.2M404.7,680.3h6.2M407.8,677.2v6.2M413.3,680.3h6.2M416.4,677.2v6.2M474.8,680.3h6.2M477.9,677.2v6.2M535.7,680.3h6.2M538.8,677.2v6.2" fill="none" stroke="#ab3329" stroke-width="1.3"/><line x1="86.7" y1="457" x2="95.5" y2="457" stroke="#3b55a5" stroke-width="1.6"/><line x1="508.5" y1="721.5" x2="571" y2="721.5" stroke="#3b55a5" stroke-width="1.6"/><path d="M507.1,721.5h6.2M510.2,718.4v6.2M510.4,721.5h6.2M513.5,718.4v6.2M513.6,721.5h6.2M516.7,718.4v6.2M516.9,721.5h6.2M520.0,718.4v6.2M521.9,721.5h6.2M525.0,718.4v6.2M525.1,721.5h6.2M528.2,718.4v6.2M535.0,721.5h6.2M538.1,718.4v6.2M539.9,721.5h6.2M543.0,718.4v6.2M541.6,721.5h6.2M544.7,718.4v6.2M551.5,721.5h6.2M554.6,718.4v6.2M566.2,721.5h6.2M569.3,718.4v6.2M87.6,457.0h6.2M90.7,453.9v6.2M92.0,457.0h6.2M95.1,453.9v6.2" fill="none" stroke="#3b55a5" stroke-width="1.5"/>
<rect x="63.5" y="449.4" width="530.0" height="339.4" fill="none" stroke="#a6a8ae" stroke-width="1.3"/>
<line x1="57.5" x2="63.5" y1="746.10" y2="746.10" stroke="#a6a8ae" stroke-width="1.3"/>
<text x="53.3" y="750.50" text-anchor="end" font-size="12.6" textLength="15.3" lengthAdjust="spacingAndGlyphs" fill="#1a1a1a" stroke="#1a1a1a">0.0</text>
<line x1="57.5" x2="63.5" y1="688.34" y2="688.34" stroke="#a6a8ae" stroke-width="1.3"/>
<text x="53.3" y="692.74" text-anchor="end" font-size="12.6" textLength="15.3" lengthAdjust="spacingAndGlyphs" fill="#1a1a1a" stroke="#1a1a1a">0.2</text>
<line x1="57.5" x2="63.5" y1="630.58" y2="630.58" stroke="#a6a8ae" stroke-width="1.3"/>
<text x="53.3" y="634.98" text-anchor="end" font-size="12.6" textLength="15.3" lengthAdjust="spacingAndGlyphs" fill="#1a1a1a" stroke="#1a1a1a">0.4</text>
<line x1="57.5" x2="63.5" y1="572.82" y2="572.82" stroke="#a6a8ae" stroke-width="1.3"/>
<text x="53.3" y="577.22" text-anchor="end" font-size="12.6" textLength="15.3" lengthAdjust="spacingAndGlyphs" fill="#1a1a1a" stroke="#1a1a1a">0.6</text>
<line x1="57.5" x2="63.5" y1="515.06" y2="515.06" stroke="#a6a8ae" stroke-width="1.3"/>
<text x="53.3" y="519.46" text-anchor="end" font-size="12.6" textLength="15.3" lengthAdjust="spacingAndGlyphs" fill="#1a1a1a" stroke="#1a1a1a">0.8</text>
<line x1="57.5" x2="63.5" y1="457.30" y2="457.30" stroke="#a6a8ae" stroke-width="1.3"/>
<text x="53.3" y="461.70" text-anchor="end" font-size="12.6" textLength="15.3" lengthAdjust="spacingAndGlyphs" fill="#1a1a1a" stroke="#1a1a1a">1.0</text>
<line x1="89.75" x2="89.75" y1="788.8" y2="794.8" stroke="#a6a8ae" stroke-width="1.3"/>
<text x="89.75" y="810.30" text-anchor="middle" font-size="12.4" textLength="5.8" lengthAdjust="spacingAndGlyphs" fill="#1a1a1a" stroke="#1a1a1a">0</text>
<text class="b" x="89.75" y="772.90" text-anchor="middle" font-size="10.6" fill="#4a5ea8" stroke="#4a5ea8">18021</text>
<text class="b" x="89.75" y="788.00" text-anchor="middle" font-size="10.6" fill="#c04a48" stroke="#c04a48">137</text>
<line x1="233.40" x2="233.40" y1="788.8" y2="794.8" stroke="#a6a8ae" stroke-width="1.3"/>
<text x="233.40" y="810.30" text-anchor="middle" font-size="12.4" textLength="11.7" lengthAdjust="spacingAndGlyphs" fill="#1a1a1a" stroke="#1a1a1a">50</text>
<text class="b" x="233.40" y="772.90" text-anchor="middle" font-size="10.6" fill="#4a5ea8" stroke="#4a5ea8">2159</text>
<text class="b" x="233.40" y="788.00" text-anchor="middle" font-size="10.6" fill="#c04a48" stroke="#c04a48">27</text>
<line x1="377.05" x2="377.05" y1="788.8" y2="794.8" stroke="#a6a8ae" stroke-width="1.3"/>
<text x="377.05" y="810.30" text-anchor="middle" font-size="12.4" textLength="18.7" lengthAdjust="spacingAndGlyphs" fill="#1a1a1a" stroke="#1a1a1a">100</text>
<text class="b" x="377.05" y="772.90" text-anchor="middle" font-size="10.6" fill="#4a5ea8" stroke="#4a5ea8">342</text>
<text class="b" x="377.05" y="788.00" text-anchor="middle" font-size="10.6" fill="#c04a48" stroke="#c04a48">5</text>
<line x1="520.70" x2="520.70" y1="788.8" y2="794.8" stroke="#a6a8ae" stroke-width="1.3"/>
<text x="520.70" y="810.30" text-anchor="middle" font-size="12.4" textLength="18.7" lengthAdjust="spacingAndGlyphs" fill="#1a1a1a" stroke="#1a1a1a">150</text>
<text class="b" x="520.70" y="772.90" text-anchor="middle" font-size="10.6" fill="#4a5ea8" stroke="#4a5ea8">14</text>
<text class="b" x="520.70" y="788.00" text-anchor="middle" font-size="10.6" fill="#c04a48" stroke="#c04a48">1</text>
<text class="b" x="13.6" y="772.40" font-size="10" textLength="19.4" lengthAdjust="spacingAndGlyphs" fill="#1a1a1a" stroke="#1a1a1a">No I</text>
<text class="b" x="13.6" y="787.20" font-size="10" fill="#1a1a1a" stroke="#1a1a1a">I</text>
<text x="50.2" y="774.10" text-anchor="middle" font-size="11.4" fill="#4a5ea8" stroke="#4a5ea8">0</text>
<text x="50.2" y="788.50" text-anchor="middle" font-size="11.4" fill="#c04a48" stroke="#c04a48">1</text>
<text class="b" x="307.3" y="834.40" font-size="16" font-weight="bold" textLength="57" lengthAdjust="spacingAndGlyphs" fill="#111" stroke="#111">Months</text>
<text class="b" transform="translate(25,658.00) rotate(-90)" x="0" y="0" font-size="15.3" font-weight="bold" textLength="114" lengthAdjust="spacingAndGlyphs" fill="#111" stroke="#111">Overall Survival</text>
<rect x="487.4" y="454.1" width="101.6" height="32.7" fill="#fff" stroke="#d4d4d4" stroke-width="1"/>
<text x="538.2" y="466.7" text-anchor="middle" font-size="12.2" textLength="60" lengthAdjust="spacingAndGlyphs" fill="#1a1a1a" stroke="#1a1a1a">+ Censored</text>
<text x="538.2" y="483.1" text-anchor="middle" font-size="12.2" textLength="92" lengthAdjust="spacingAndGlyphs" fill="#1a1a1a" stroke="#1a1a1a">Logrank p=0.0514</text>
<text class="b" x="-0.5" y="435.3" font-size="38" fill="#000" stroke="#000">b</text>
<polygon points="89.1,885.7 101.3,885.7 101.3,889.9 89.1,889.9" fill="#6f7eb3" fill-opacity="0.5"/><polygon points="440.0,1141.0 453.7,1137.1 555.1,1137.1 555.1,1169.9 547.3,1168.3 541.1,1165.2 534.8,1162.1 528.6,1159.0 522.4,1156.0 500.0,1155.0 470.0,1152.0 440.0,1150.0" fill="#6f7eb3" fill-opacity="0.5"/>
<polygon points="102.6,882.4 109.7,883.2 113.9,886.6 117.2,890.8 121.4,897.5 125.6,904.2 129.0,910.9 131.2,918.1 135.3,930.1 139.3,940.9 144.7,950.3 147.3,958.3 151.4,966.4 156.7,977.1 160.0,982.0 163.6,990.1 166.9,1001.8 171.9,1008.5 180.3,1011.9 187.0,1018.6 192.1,1027.0 197.1,1035.4 203.4,1040.0 211.0,1044.2 217.7,1047.6 223.6,1052.6 227.8,1055.9 233.6,1059.3 240.3,1064.5 250.3,1070.2 260.4,1074.2 270.5,1077.2 280.5,1080.3 290.6,1083.3 300.0,1086.5 320.1,1089.1 330.2,1090.1 352.3,1091.7 380.5,1093.2 420.0,1093.4 522.4,1093.4 522.4,1169.3 470.9,1169.3 456.8,1166.8 453.7,1163.6 435.0,1163.6 433.4,1161.0 420.0,1161.1 413.8,1160.4 388.3,1157.7 376.2,1153.0 365.5,1149.7 353.4,1147.7 340.0,1145.2 333.8,1143.7 328.5,1141.7 320.4,1138.3 311.0,1135.6 300.3,1132.3 290.9,1128.9 282.8,1123.6 273.4,1120.2 265.0,1117.0 258.0,1114.0 240.0,1106.0 220.0,1096.0 200.0,1082.0 197.0,1073.6 195.0,1069.4 190.0,1062.7 185.4,1058.9 177.0,1047.1 166.9,1032.0 158.4,1020.0 149.2,1000.1 141.8,980.0 139.2,974.7 135.1,960.0 130.6,945.0 126.5,934.7 125.5,932.1 102.8,932.1" fill="#d05b5b" fill-opacity="0.5"/>
<polyline points="96.0,881.8 100.0,882.5 105.5,884.9 113.9,895.0 115.6,898.3 117.6,907.5 121.6,912.5 124.1,916.1 126.6,921.6 128.7,926.1 131.7,931.2 133.7,934.2 136.5,945.0 138.7,954.1 141.7,961.6 144.2,970.2 148.0,977.0 151.8,982.0 155.2,990.1 158.6,998.8 161.9,1005.5 165.2,1010.2 170.2,1022.2 175.2,1028.4 181.9,1035.0 186.9,1040.5 192.8,1046.5 198.5,1053.0 206.8,1060.5 215.2,1067.7 223.6,1072.7 231.9,1077.8 240.0,1085.3 250.3,1091.3 260.0,1094.7 268.0,1096.7 272.1,1100.7 280.1,1102.1 290.9,1106.1 293.6,1110.1 311.0,1114.2 320.4,1115.5 327.1,1118.2 340.0,1120.8 364.2,1124.2 374.9,1126.8 380.3,1129.5 391.0,1132.2 414.7,1132.2 414.7,1135.5 433.4,1135.5 435.0,1138.0 455.3,1138.0 456.8,1143.0 513.0,1148.0 555.0,1152.8 570.7,1153.6" fill="none" stroke="#ab3329" stroke-width="1.5" stroke-linejoin="round" stroke-linecap="butt"/>
<g fill="none" stroke="#3b55a5" stroke-width="2.0" stroke-linejoin="round"><path d="M93.5 882.2L96.2 882.7L98.5 884.2L100.5 886.4L102.2 888.9L103.7 891.5L105.2 894.1L106.6 896.8L108.1 899.4L109.6 902.0L111.0 904.6L112.2 907.4L113.2 910.2L114.1 913.1L115.0 915.9L115.9 918.8L116.8 921.7L117.6 924.6L118.5 927.5L119.3 930.3L120.2 933.2L121.1 936.1L122.1 938.9L123.1 941.8L124.1 944.6L125.0 947.5L125.8 950.4L126.7 953.3L127.5 956.2L128.3 959.1L129.2 962.0L130.0 964.8L130.9 967.7L131.7 970.6L132.7 973.5L133.8 976.3L134.9 979.0L136.1 981.8L137.1 984.7L138.1 987.5L139.2 990.3L140.2 993.1L141.2 996.0L142.3 998.8L143.4 1001.6L144.6 1004.3L145.9 1007.1L147.1 1009.8L148.3 1012.6L149.4 1015.4L150.7 1018.1L152.0 1020.8L153.6 1023.4L155.2 1025.9L156.8 1028.5L158.4 1031.0L160.0 1033.6L161.5 1036.1L163.1 1038.7L164.6 1041.3L166.2 1043.9L167.8 1046.4L169.5 1048.9L171.2 1051.4L172.9 1053.9L174.6 1056.3L176.4 1058.8L178.2 1061.2L180.1 1063.5L181.9 1065.9L183.8 1068.3L185.7 1070.6L187.6 1072.9L189.7 1075.1L191.9 1077.2L194.0 1079.3L196.3 1081.3L198.6 1083.1L201.2 1084.7L203.8 1086.2L206.4 1087.8L208.9 1089.3L211.5 1090.9L214.0 1092.5L216.6 1094.1L219.2 1095.6L221.8 1097.1L224.4 1098.6L227.1 1100.0L229.7 1101.4L232.5 1102.7L235.2 1104.0L237.9 1105.3L240.6 1106.6L243.4 1107.8L246.2 1108.8L249.1 1109.7L251.9 1110.7L254.8 1111.6L257.7 1112.4L260.6 1113.3L263.5 1114.0L266.4 1114.7L269.3 1115.4L272.3 1116.1L275.2 1116.8L278.1 1117.5L281.0 1118.3L284.0 1119.0L286.9 1119.8L289.8 1120.5L292.7 1121.3L295.6 1122.0L298.5 1122.7L301.5 1123.4L304.4 1124.0L307.4 1124.7L310.3 1125.3L313.2 1125.9L316.2 1126.6L319.1 1127.2L322.1 1127.8L325.0 1128.3L328.0 1128.9L331.0 1129.5L333.9 1130.1L336.9 1130.6L339.8 1131.1L342.8 1131.6L345.8 1132.1L348.7 1132.6L351.7 1133.1L354.7 1133.6L357.7 1134.0L360.6 1134.5L363.6 1134.9L366.6 1135.3L369.6 1135.8L372.6 1136.2L375.5 1136.6L378.5 1137.0L381.5 1137.3L384.5 1137.6L387.5 1138.0L390.5 1138.3L393.5 1138.6L396.5 1138.9L399.5 1139.2L402.5 1139.5L405.5 1139.8L408.5 1140.1L411.5 1140.4L414.5 1140.6L417.5 1140.9L420.5 1141.3L423.5 1141.6L426.4 1141.9L429.4 1142.3L432.4 1142.6L435.4 1143.0L438.4 1143.3L441.4 1143.5L444.4 1143.8L447.4 1144.0L450.4 1144.3L453.4 1144.5L456.4 1144.7L459.4 1145.0L462.4 1145.2L465.4 1145.5L468.4 1145.7L471.4 1145.9L474.4 1146.1L477.4 1146.4L480.4 1146.6L483.4 1146.8L486.4 1147.0L489.4 1147.2L492.4 1147.4L495.4 1147.6L498.5 1147.8L501.5 1148.1L504.5 1148.3L507.5 1148.5L510.5 1148.8L513.5 1149.0L516.5 1149.3L519.5 1149.5L522.5 1149.7L525.5 1150.0L528.5 1150.2L531.5 1150.5L534.4 1150.9L537.4 1151.3L540.4 1151.8L543.4 1152.2L546.3 1152.7L549.3 1153.1L552.3 1153.6"/><path d="M94.4 882.2L97.1 882.7L99.5 884.2L101.4 886.4L103.1 888.9L104.7 891.5L106.1 894.1L107.5 896.8L109.0 899.4L110.5 902.0L112.0 904.6L113.1 907.4L114.1 910.2L115.0 913.1L115.9 915.9L116.8 918.8L117.7 921.7L118.6 924.6L119.4 927.5L120.3 930.3L121.1 933.2L122.1 936.1L123.1 938.9L124.1 941.8L125.0 944.6L125.9 947.5L126.8 950.4L127.6 953.3L128.4 956.2L129.2 959.1L130.1 962.0L130.9 964.8L131.8 967.7L132.7 970.6L133.6 973.5L134.7 976.3L135.9 979.0L137.0 981.8L138.0 984.7L139.1 987.5L140.1 990.3L141.1 993.1L142.1 996.0L143.2 998.8L144.3 1001.6L145.6 1004.3L146.8 1007.1L148.0 1009.8L149.2 1012.6L150.4 1015.4L151.6 1018.1L153.0 1020.8L154.5 1023.4L156.1 1025.9L157.7 1028.5L159.3 1031.0L160.9 1033.6L162.4 1036.1L164.0 1038.7L165.5 1041.3L167.1 1043.9L168.7 1046.4L170.4 1048.9L172.1 1051.4L173.8 1053.9L175.6 1056.3L177.3 1058.8L179.1 1061.2L181.0 1063.5L182.9 1065.9L184.7 1068.3L186.6 1070.6L188.5 1072.9L190.6 1075.1L192.8 1077.2L195.0 1079.3L197.2 1081.3L199.6 1083.1L202.1 1084.7L204.7 1086.2L207.3 1087.8L209.9 1089.3L212.4 1090.9L215.0 1092.5L217.6 1094.1L220.1 1095.6L222.7 1097.1L225.4 1098.6L228.0 1100.0L230.7 1101.4L233.4 1102.7L236.1 1104.0L238.8 1105.3L241.5 1106.6L244.3 1107.8L247.1 1108.8L250.0 1109.7L252.9 1110.7L255.7 1111.6L258.6 1112.4L261.5 1113.3L264.4 1114.0L267.3 1114.7L270.3 1115.4L273.2 1116.1L276.1 1116.8L279.1 1117.5L282.0 1118.3L284.9 1119.0L287.8 1119.8L290.7 1120.5L293.6 1121.3L296.6 1122.0L299.5 1122.7L302.4 1123.4L305.4 1124.0L308.3 1124.7L311.2 1125.3L314.2 1125.9L317.1 1126.6L320.1 1127.2L323.0 1127.8L326.0 1128.3L328.9 1128.9L331.9 1129.5L334.8 1130.1L337.8 1130.6L340.8 1131.1L343.7 1131.6L346.7 1132.1L349.7 1132.6L352.7 1133.1L355.6 1133.6L358.6 1134.0L361.6 1134.5L364.6 1134.9L367.5 1135.3L370.5 1135.8L373.5 1136.2L376.5 1136.6L379.5 1137.0L382.5 1137.3L385.4 1137.6L388.4 1138.0L391.4 1138.3L394.4 1138.6L397.4 1138.9L400.4 1139.2L403.4 1139.5L406.4 1139.8L409.4 1140.1L412.4 1140.4L415.4 1140.6L418.4 1140.9L421.4 1141.3L424.4 1141.6L427.4 1141.9L430.4 1142.3L433.4 1142.6L436.4 1143.0L439.3 1143.3L442.3 1143.5L445.3 1143.8L448.3 1144.0L451.3 1144.3L454.3 1144.5L457.3 1144.7L460.3 1145.0L463.4 1145.2L466.4 1145.5L469.4 1145.7L472.4 1145.9L475.4 1146.1L478.4 1146.4L481.4 1146.6L484.4 1146.8L487.4 1147.0L490.4 1147.2L493.4 1147.4L496.4 1147.6L499.4 1147.8L502.4 1148.1L505.4 1148.3L508.4 1148.5L511.4 1148.8L514.4 1149.0L517.4 1149.3L520.4 1149.5L523.4 1149.7L526.4 1150.0L529.4 1150.2L532.4 1150.5L535.4 1150.9L538.4 1151.3L541.3 1151.8L544.3 1152.2L547.3 1152.7L550.3 1153.1L553.2 1153.6"/><path d="M95.4 882.2L98.1 882.7L100.4 884.2L102.4 886.4L104.1 888.9L105.6 891.5L107.0 894.1L108.5 896.8L109.9 899.4L111.5 902.0L112.9 904.6L114.1 907.4L115.0 910.2L115.9 913.1L116.9 915.9L117.8 918.8L118.6 921.7L119.5 924.6L120.4 927.5L121.2 930.3L122.1 933.2L123.0 936.1L124.0 938.9L125.0 941.8L126.0 944.6L126.9 947.5L127.7 950.4L128.5 953.3L129.3 956.2L130.2 959.1L131.0 962.0L131.9 964.8L132.7 967.7L133.6 970.6L134.6 973.5L135.7 976.3L136.8 979.0L137.9 981.8L139.0 984.7L140.0 987.5L141.0 990.3L142.1 993.1L143.1 996.0L144.1 998.8L145.3 1001.6L146.5 1004.3L147.7 1007.1L149.0 1009.8L150.1 1012.6L151.3 1015.4L152.5 1018.1L153.9 1020.8L155.4 1023.4L157.0 1025.9L158.7 1028.5L160.3 1031.0L161.8 1033.6L163.4 1036.1L164.9 1038.7L166.5 1041.3L168.0 1043.9L169.6 1046.4L171.3 1048.9L173.1 1051.4L174.8 1053.9L176.5 1056.3L178.2 1058.8L180.1 1061.2L181.9 1063.5L183.8 1065.9L185.7 1068.3L187.5 1070.6L189.5 1072.9L191.6 1075.1L193.7 1077.2L195.9 1079.3L198.1 1081.3L200.5 1083.1L203.1 1084.7L205.6 1086.2L208.2 1087.8L210.8 1089.3L213.4 1090.9L215.9 1092.5L218.5 1094.1L221.1 1095.6L223.7 1097.1L226.3 1098.6L228.9 1100.0L231.6 1101.4L234.3 1102.7L237.0 1104.0L239.7 1105.3L242.5 1106.6L245.2 1107.8L248.1 1108.8L250.9 1109.7L253.8 1110.7L256.7 1111.6L259.5 1112.4L262.4 1113.3L265.3 1114.0L268.3 1114.7L271.2 1115.4L274.1 1116.1L277.1 1116.8L280.0 1117.5L282.9 1118.3L285.8 1119.0L288.7 1119.8L291.7 1120.5L294.6 1121.3L297.5 1122.0L300.4 1122.7L303.3 1123.4L306.3 1124.0L309.2 1124.7L312.2 1125.3L315.1 1125.9L318.1 1126.6L321.0 1127.2L324.0 1127.8L326.9 1128.3L329.9 1128.9L332.8 1129.5L335.8 1130.1L338.7 1130.6L341.7 1131.1L344.7 1131.6L347.6 1132.1L350.6 1132.6L353.6 1133.1L356.6 1133.6L359.5 1134.0L362.5 1134.5L365.5 1134.9L368.5 1135.3L371.4 1135.8L374.4 1136.2L377.4 1136.6L380.4 1137.0L383.4 1137.3L386.4 1137.6L389.4 1138.0L392.4 1138.3L395.4 1138.6L398.4 1138.9L401.4 1139.2L404.4 1139.5L407.3 1139.8L410.3 1140.1L413.3 1140.4L416.3 1140.6L419.3 1140.9L422.3 1141.3L425.3 1141.6L428.3 1141.9L431.3 1142.3L434.3 1142.6L437.3 1143.0L440.3 1143.3L443.3 1143.5L446.3 1143.8L449.3 1144.0L452.3 1144.3L455.3 1144.5L458.3 1144.7L461.3 1145.0L464.3 1145.2L467.3 1145.5L470.3 1145.7L473.3 1145.9L476.3 1146.1L479.3 1146.4L482.3 1146.6L485.3 1146.8L488.3 1147.0L491.3 1147.2L494.3 1147.4L497.3 1147.6L500.3 1147.8L503.3 1148.1L506.3 1148.3L509.3 1148.5L512.3 1148.8L515.3 1149.0L518.3 1149.3L521.3 1149.5L524.3 1149.7L527.3 1150.0L530.3 1150.2L533.3 1150.5L536.3 1150.9L539.3 1151.3L542.3 1151.8L545.2 1152.2L548.2 1152.7L551.2 1153.1L554.2 1153.6"/><path d="M96.3 882.2L99.0 882.7L101.3 884.2L103.3 886.4L105.0 888.9L106.5 891.5L108.0 894.1L109.4 896.8L110.9 899.4L112.4 902.0L113.8 904.6L115.0 907.4L116.0 910.2L116.9 913.1L117.8 915.9L118.7 918.8L119.6 921.7L120.4 924.6L121.3 927.5L122.1 930.3L123.0 933.2L123.9 936.1L124.9 938.9L125.9 941.8L126.9 944.6L127.8 947.5L128.6 950.4L129.5 953.3L130.3 956.2L131.1 959.1L132.0 962.0L132.8 964.8L133.7 967.7L134.5 970.6L135.5 973.5L136.6 976.3L137.7 979.0L138.9 981.8L139.9 984.7L140.9 987.5L142.0 990.3L143.0 993.1L144.0 996.0L145.1 998.8L146.2 1001.6L147.4 1004.3L148.7 1007.1L149.9 1009.8L151.1 1012.6L152.2 1015.4L153.5 1018.1L154.8 1020.8L156.4 1023.4L158.0 1025.9L159.6 1028.5L161.2 1031.0L162.8 1033.6L164.3 1036.1L165.9 1038.7L167.4 1041.3L169.0 1043.9L170.6 1046.4L172.3 1048.9L174.0 1051.4L175.7 1053.9L177.4 1056.3L179.2 1058.8L181.0 1061.2L182.9 1063.5L184.7 1065.9L186.6 1068.3L188.5 1070.6L190.4 1072.9L192.5 1075.1L194.7 1077.2L196.8 1079.3L199.1 1081.3L201.4 1083.1L204.0 1084.7L206.6 1086.2L209.2 1087.8L211.7 1089.3L214.3 1090.9L216.8 1092.5L219.4 1094.1L222.0 1095.6L224.6 1097.1L227.2 1098.6L229.9 1100.0L232.5 1101.4L235.3 1102.7L238.0 1104.0L240.7 1105.3L243.4 1106.6L246.2 1107.8L249.0 1108.8L251.9 1109.7L254.7 1110.7L257.6 1111.6L260.5 1112.4L263.4 1113.3L266.3 1114.0L269.2 1114.7L272.1 1115.4L275.1 1116.1L278.0 1116.8L280.9 1117.5L283.8 1118.3L286.8 1119.0L289.7 1119.8L292.6 1120.5L295.5 1121.3L298.4 1122.0L301.3 1122.7L304.3 1123.4L307.2 1124.0L310.2 1124.7L313.1 1125.3L316.0 1125.9L319.0 1126.6L321.9 1127.2L324.9 1127.8L327.8 1128.3L330.8 1128.9L333.8 1129.5L336.7 1130.1L339.7 1130.6L342.6 1131.1L345.6 1131.6L348.6 1132.1L351.5 1132.6L354.5 1133.1L357.5 1133.6L360.5 1134.0L363.4 1134.5L366.4 1134.9L369.4 1135.3L372.4 1135.8L375.4 1136.2L378.3 1136.6L381.3 1137.0L384.3 1137.3L387.3 1137.6L390.3 1138.0L393.3 1138.3L396.3 1138.6L399.3 1138.9L402.3 1139.2L405.3 1139.5L408.3 1139.8L411.3 1140.1L414.3 1140.4L417.3 1140.6L420.3 1140.9L423.3 1141.3L426.3 1141.6L429.2 1141.9L432.2 1142.3L435.2 1142.6L438.2 1143.0L441.2 1143.3L444.2 1143.5L447.2 1143.8L450.2 1144.0L453.2 1144.3L456.2 1144.5L459.2 1144.7L462.2 1145.0L465.2 1145.2L468.2 1145.5L471.2 1145.7L474.2 1145.9L477.2 1146.1L480.2 1146.4L483.2 1146.6L486.2 1146.8L489.2 1147.0L492.2 1147.2L495.2 1147.4L498.2 1147.6L501.3 1147.8L504.3 1148.1L507.3 1148.3L510.3 1148.5L513.3 1148.8L516.3 1149.0L519.3 1149.3L522.3 1149.5L525.3 1149.7L528.3 1150.0L531.3 1150.2L534.3 1150.5L537.2 1150.9L540.2 1151.3L543.2 1151.8L546.2 1152.2L549.1 1152.7L552.1 1153.1L555.1 1153.6"/><path d="M97.2 882.2L99.9 882.7L102.3 884.2L104.2 886.4L105.9 888.9L107.5 891.5L108.9 894.1L110.3 896.8L111.8 899.4L113.3 902.0L114.8 904.6L115.9 907.4L116.9 910.2L117.8 913.1L118.7 915.9L119.6 918.8L120.5 921.7L121.4 924.6L122.2 927.5L123.1 930.3L123.9 933.2L124.9 936.1L125.9 938.9L126.9 941.8L127.8 944.6L128.7 947.5L129.6 950.4L130.4 953.3L131.2 956.2L132.0 959.1L132.9 962.0L133.7 964.8L134.6 967.7L135.5 970.6L136.4 973.5L137.5 976.3L138.7 979.0L139.8 981.8L140.8 984.7L141.9 987.5L142.9 990.3L143.9 993.1L144.9 996.0L146.0 998.8L147.1 1001.6L148.4 1004.3L149.6 1007.1L150.8 1009.8L152.0 1012.6L153.2 1015.4L154.4 1018.1L155.8 1020.8L157.3 1023.4L158.9 1025.9L160.5 1028.5L162.1 1031.0L163.7 1033.6L165.2 1036.1L166.8 1038.7L168.3 1041.3L169.9 1043.9L171.5 1046.4L173.2 1048.9L174.9 1051.4L176.6 1053.9L178.4 1056.3L180.1 1058.8L181.9 1061.2L183.8 1063.5L185.7 1065.9L187.5 1068.3L189.4 1070.6L191.3 1072.9L193.4 1075.1L195.6 1077.2L197.8 1079.3L200.0 1081.3L202.4 1083.1L204.9 1084.7L207.5 1086.2L210.1 1087.8L212.7 1089.3L215.2 1090.9L217.8 1092.5L220.4 1094.1L222.9 1095.6L225.5 1097.1L228.2 1098.6L230.8 1100.0L233.5 1101.4L236.2 1102.7L238.9 1104.0L241.6 1105.3L244.3 1106.6L247.1 1107.8L249.9 1108.8L252.8 1109.7L255.7 1110.7L258.5 1111.6L261.4 1112.4L264.3 1113.3L267.2 1114.0L270.1 1114.7L273.1 1115.4L276.0 1116.1L278.9 1116.8L281.9 1117.5L284.8 1118.3L287.7 1119.0L290.6 1119.8L293.5 1120.5L296.4 1121.3L299.4 1122.0L302.3 1122.7L305.2 1123.4L308.2 1124.0L311.1 1124.7L314.0 1125.3L317.0 1125.9L319.9 1126.6L322.9 1127.2L325.8 1127.8L328.8 1128.3L331.7 1128.9L334.7 1129.5L337.6 1130.1L340.6 1130.6L343.6 1131.1L346.5 1131.6L349.5 1132.1L352.5 1132.6L355.5 1133.1L358.4 1133.6L361.4 1134.0L364.4 1134.5L367.4 1134.9L370.3 1135.3L373.3 1135.8L376.3 1136.2L379.3 1136.6L382.3 1137.0L385.3 1137.3L388.2 1137.6L391.2 1138.0L394.2 1138.3L397.2 1138.6L400.2 1138.9L403.2 1139.2L406.2 1139.5L409.2 1139.8L412.2 1140.1L415.2 1140.4L418.2 1140.6L421.2 1140.9L424.2 1141.3L427.2 1141.6L430.2 1141.9L433.2 1142.3L436.2 1142.6L439.2 1143.0L442.1 1143.3L445.1 1143.5L448.1 1143.8L451.1 1144.0L454.1 1144.3L457.1 1144.5L460.1 1144.7L463.1 1145.0L466.2 1145.2L469.2 1145.5L472.2 1145.7L475.2 1145.9L478.2 1146.1L481.2 1146.4L484.2 1146.6L487.2 1146.8L490.2 1147.0L493.2 1147.2L496.2 1147.4L499.2 1147.6L502.2 1147.8L505.2 1148.1L508.2 1148.3L511.2 1148.5L514.2 1148.8L517.2 1149.0L520.2 1149.3L523.2 1149.5L526.2 1149.7L529.2 1150.0L532.2 1150.2L535.2 1150.5L538.2 1150.9L541.2 1151.3L544.1 1151.8L547.1 1152.2L550.1 1152.7L553.1 1153.1L556.0 1153.6"/><path d="M98.2 882.2L100.9 882.7L103.2 884.2L105.2 886.4L106.9 888.9L108.4 891.5L109.8 894.1L111.3 896.8L112.7 899.4L114.3 902.0L115.7 904.6L116.9 907.4L117.8 910.2L118.7 913.1L119.7 915.9L120.6 918.8L121.4 921.7L122.3 924.6L123.2 927.5L124.0 930.3L124.9 933.2L125.8 936.1L126.8 938.9L127.8 941.8L128.8 944.6L129.7 947.5L130.5 950.4L131.3 953.3L132.1 956.2L133.0 959.1L133.8 962.0L134.7 964.8L135.5 967.7L136.4 970.6L137.4 973.5L138.5 976.3L139.6 979.0L140.7 981.8L141.8 984.7L142.8 987.5L143.8 990.3L144.9 993.1L145.9 996.0L146.9 998.8L148.1 1001.6L149.3 1004.3L150.5 1007.1L151.8 1009.8L152.9 1012.6L154.1 1015.4L155.3 1018.1L156.7 1020.8L158.2 1023.4L159.8 1025.9L161.5 1028.5L163.1 1031.0L164.6 1033.6L166.2 1036.1L167.7 1038.7L169.3 1041.3L170.8 1043.9L172.4 1046.4L174.1 1048.9L175.9 1051.4L177.6 1053.9L179.3 1056.3L181.0 1058.8L182.9 1061.2L184.7 1063.5L186.6 1065.9L188.5 1068.3L190.3 1070.6L192.3 1072.9L194.4 1075.1L196.5 1077.2L198.7 1079.3L200.9 1081.3L203.3 1083.1L205.9 1084.7L208.4 1086.2L211.0 1087.8L213.6 1089.3L216.2 1090.9L218.7 1092.5L221.3 1094.1L223.9 1095.6L226.5 1097.1L229.1 1098.6L231.7 1100.0L234.4 1101.4L237.1 1102.7L239.8 1104.0L242.5 1105.3L245.3 1106.6L248.0 1107.8L250.9 1108.8L253.7 1109.7L256.6 1110.7L259.5 1111.6L262.3 1112.4L265.2 1113.3L268.1 1114.0L271.1 1114.7L274.0 1115.4L276.9 1116.1L279.9 1116.8L282.8 1117.5L285.7 1118.3L288.6 1119.0L291.5 1119.8L294.5 1120.5L297.4 1121.3L300.3 1122.0L303.2 1122.7L306.1 1123.4L309.1 1124.0L312.0 1124.7L315.0 1125.3L317.9 1125.9L320.9 1126.6L323.8 1127.2L326.8 1127.8L329.7 1128.3L332.7 1128.9L335.6 1129.5L338.6 1130.1L341.5 1130.6L344.5 1131.1L347.5 1131.6L350.4 1132.1L353.4 1132.6L356.4 1133.1L359.4 1133.6L362.3 1134.0L365.3 1134.5L368.3 1134.9L371.3 1135.3L374.2 1135.8L377.2 1136.2L380.2 1136.6L383.2 1137.0L386.2 1137.3L389.2 1137.6L392.2 1138.0L395.2 1138.3L398.2 1138.6L401.2 1138.9L404.2 1139.2L407.2 1139.5L410.1 1139.8L413.1 1140.1L416.1 1140.4L419.1 1140.6L422.1 1140.9L425.1 1141.3L428.1 1141.6L431.1 1141.9L434.1 1142.3L437.1 1142.6L440.1 1143.0L443.1 1143.3L446.1 1143.5L449.1 1143.8L452.1 1144.0L455.1 1144.3L458.1 1144.5L461.1 1144.7L464.1 1145.0L467.1 1145.2L470.1 1145.5L473.1 1145.7L476.1 1145.9L479.1 1146.1L482.1 1146.4L485.1 1146.6L488.1 1146.8L491.1 1147.0L494.1 1147.2L497.1 1147.4L500.1 1147.6L503.1 1147.8L506.1 1148.1L509.1 1148.3L512.1 1148.5L515.1 1148.8L518.1 1149.0L521.1 1149.3L524.1 1149.5L527.1 1149.7L530.1 1150.0L533.1 1150.2L536.1 1150.5L539.1 1150.9L542.1 1151.3L545.1 1151.8L548.0 1152.2L551.0 1152.7L554.0 1153.1L557.0 1153.6"/><path d="M99.1 882.2L101.8 882.7L104.1 884.2L106.1 886.4L107.8 888.9L109.3 891.5L110.8 894.1L112.2 896.8L113.7 899.4L115.2 902.0L116.6 904.6L117.8 907.4L118.8 910.2L119.7 913.1L120.6 915.9L121.5 918.8L122.4 921.7L123.2 924.6L124.1 927.5L124.9 930.3L125.8 933.2L126.7 936.1L127.7 938.9L128.7 941.8L129.7 944.6L130.6 947.5L131.4 950.4L132.3 953.3L133.1 956.2L133.9 959.1L134.8 962.0L135.6 964.8L136.5 967.7L137.3 970.6L138.3 973.5L139.4 976.3L140.5 979.0L141.7 981.8L142.7 984.7L143.7 987.5L144.8 990.3L145.8 993.1L146.8 996.0L147.9 998.8L149.0 1001.6L150.2 1004.3L151.5 1007.1L152.7 1009.8L153.9 1012.6L155.0 1015.4L156.3 1018.1L157.6 1020.8L159.2 1023.4L160.8 1025.9L162.4 1028.5L164.0 1031.0L165.6 1033.6L167.1 1036.1L168.7 1038.7L170.2 1041.3L171.8 1043.9L173.4 1046.4L175.1 1048.9L176.8 1051.4L178.5 1053.9L180.2 1056.3L182.0 1058.8L183.8 1061.2L185.7 1063.5L187.5 1065.9L189.4 1068.3L191.3 1070.6L193.2 1072.9L195.3 1075.1L197.5 1077.2L199.6 1079.3L201.9 1081.3L204.2 1083.1L206.8 1084.7L209.4 1086.2L212.0 1087.8L214.5 1089.3L217.1 1090.9L219.6 1092.5L222.2 1094.1L224.8 1095.6L227.4 1097.1L230.0 1098.6L232.7 1100.0L235.3 1101.4L238.1 1102.7L240.8 1104.0L243.5 1105.3L246.2 1106.6L249.0 1107.8L251.8 1108.8L254.7 1109.7L257.5 1110.7L260.4 1111.6L263.3 1112.4L266.2 1113.3L269.1 1114.0L272.0 1114.7L274.9 1115.4L277.9 1116.1L280.8 1116.8L283.7 1117.5L286.6 1118.3L289.6 1119.0L292.5 1119.8L295.4 1120.5L298.3 1121.3L301.2 1122.0L304.1 1122.7L307.1 1123.4L310.0 1124.0L313.0 1124.7L315.9 1125.3L318.8 1125.9L321.8 1126.6L324.7 1127.2L327.7 1127.8L330.6 1128.3L333.6 1128.9L336.6 1129.5L339.5 1130.1L342.5 1130.6L345.4 1131.1L348.4 1131.6L351.4 1132.1L354.3 1132.6L357.3 1133.1L360.3 1133.6L363.3 1134.0L366.2 1134.5L369.2 1134.9L372.2 1135.3L375.2 1135.8L378.2 1136.2L381.1 1136.6L384.1 1137.0L387.1 1137.3L390.1 1137.6L393.1 1138.0L396.1 1138.3L399.1 1138.6L402.1 1138.9L405.1 1139.2L408.1 1139.5L411.1 1139.8L414.1 1140.1L417.1 1140.4L420.1 1140.6L423.1 1140.9L426.1 1141.3L429.1 1141.6L432.0 1141.9L435.0 1142.3L438.0 1142.6L441.0 1143.0L444.0 1143.3L447.0 1143.5L450.0 1143.8L453.0 1144.0L456.0 1144.3L459.0 1144.5L462.0 1144.7L465.0 1145.0L468.0 1145.2L471.0 1145.5L474.0 1145.7L477.0 1145.9L480.0 1146.1L483.0 1146.4L486.0 1146.6L489.0 1146.8L492.0 1147.0L495.0 1147.2L498.0 1147.4L501.0 1147.6L504.1 1147.8L507.1 1148.1L510.1 1148.3L513.1 1148.5L516.1 1148.8L519.1 1149.0L522.1 1149.3L525.1 1149.5L528.1 1149.7L531.1 1150.0L534.1 1150.2L537.1 1150.5L540.0 1150.9L543.0 1151.3L546.0 1151.8L549.0 1152.2L551.9 1152.7L554.9 1153.1L557.9 1153.6"/><path d="M96.3 879.4L99.0 879.9L101.3 881.4L103.3 883.6L105.0 886.1L106.5 888.7L108.0 891.3L109.4 894.0L110.9 896.6L112.4 899.2L113.8 901.8L115.0 904.6L116.0 907.4L116.9 910.3L117.8 913.1L118.7 916.0L119.6 918.9L120.4 921.8L121.3 924.7L122.1 927.5L123.0 930.4L123.9 933.3L124.9 936.1L125.9 939.0L126.9 941.8L127.8 944.7L128.6 947.6L129.5 950.5L130.3 953.4L131.1 956.3L132.0 959.2L132.8 962.0L133.7 964.9L134.5 967.8L135.5 970.7L136.6 973.5L137.7 976.2L138.9 979.0L139.9 981.9L140.9 984.7L142.0 987.5L143.0 990.3L144.0 993.2L145.1 996.0L146.2 998.8L147.4 1001.5L148.7 1004.3L149.9 1007.0L151.1 1009.8L152.2 1012.6L153.5 1015.3L154.8 1018.0L156.4 1020.6L158.0 1023.1L159.6 1025.7L161.2 1028.2L162.8 1030.8L164.3 1033.3L165.9 1035.9L167.4 1038.5L169.0 1041.1L170.6 1043.6L172.3 1046.1L174.0 1048.6L175.7 1051.1L177.4 1053.5L179.2 1056.0L181.0 1058.4L182.9 1060.7L184.7 1063.1L186.6 1065.5L188.5 1067.8L190.4 1070.1L192.5 1072.3L194.7 1074.4L196.8 1076.5L199.1 1078.5L201.4 1080.3L204.0 1081.9L206.6 1083.4L209.2 1085.0L211.7 1086.5L214.3 1088.1L216.8 1089.7L219.4 1091.3L222.0 1092.8L224.6 1094.3L227.2 1095.8L229.9 1097.2L232.5 1098.6L235.3 1099.9L238.0 1101.2L240.7 1102.5L243.4 1103.8L246.2 1105.0L249.0 1106.0L251.9 1106.9L254.7 1107.9L257.6 1108.8L260.5 1109.6L263.4 1110.5L266.3 1111.2L269.2 1111.9L272.1 1112.6L275.1 1113.3L278.0 1114.0L280.9 1114.7L283.8 1115.5L286.8 1116.2L289.7 1117.0L292.6 1117.7L295.5 1118.5L298.4 1119.2L301.3 1119.9L304.3 1120.6L307.2 1121.2L310.2 1121.9L313.1 1122.5L316.0 1123.1L319.0 1123.8L321.9 1124.4L324.9 1125.0L327.8 1125.5L330.8 1126.1L333.8 1126.7L336.7 1127.3L339.7 1127.8L342.6 1128.3L345.6 1128.8L348.6 1129.3L351.5 1129.8L354.5 1130.3L357.5 1130.8L360.5 1131.2L363.4 1131.7L366.4 1132.1L369.4 1132.5L372.4 1133.0L375.4 1133.4L378.3 1133.8L381.3 1134.2L384.3 1134.5L387.3 1134.8L390.3 1135.2L393.3 1135.5L396.3 1135.8L399.3 1136.1L402.3 1136.4L405.3 1136.7L408.3 1137.0L411.3 1137.3L414.3 1137.6L417.3 1137.8L420.3 1138.1L423.3 1138.5L426.3 1138.8L429.2 1139.1L432.2 1139.5L435.2 1139.8L438.2 1140.2L441.2 1140.5L444.2 1140.7L447.2 1141.0L450.2 1141.2L453.2 1141.5L456.2 1141.7L459.2 1141.9L462.2 1142.2L465.2 1142.4L468.2 1142.7L471.2 1142.9L474.2 1143.1L477.2 1143.3L480.2 1143.6L483.2 1143.8L486.2 1144.0L489.2 1144.2L492.2 1144.4L495.2 1144.6L498.2 1144.8L501.3 1145.0L504.3 1145.3L507.3 1145.5L510.3 1145.7L513.3 1146.0L516.3 1146.2L519.3 1146.5L522.3 1146.7L525.3 1146.9L528.3 1147.2L531.3 1147.4L534.3 1147.7L537.2 1148.1L540.2 1148.5L543.2 1149.0L546.2 1149.4L549.1 1149.9L552.1 1150.3L555.1 1150.8"/><path d="M96.3 880.3L99.0 880.9L101.3 882.3L103.3 884.5L105.0 887.0L106.5 889.6L108.0 892.2L109.4 894.9L110.9 897.5L112.4 900.1L113.8 902.7L115.0 905.5L116.0 908.3L116.9 911.2L117.8 914.1L118.7 916.9L119.6 919.8L120.4 922.7L121.3 925.6L122.1 928.5L123.0 931.4L123.9 934.2L124.9 937.1L125.9 939.9L126.9 942.7L127.8 945.6L128.6 948.5L129.5 951.4L130.3 954.3L131.1 957.2L132.0 960.1L132.8 963.0L133.7 965.9L134.5 968.7L135.5 971.6L136.6 974.4L137.7 977.2L138.9 980.0L139.9 982.8L140.9 985.6L142.0 988.4L143.0 991.3L144.0 994.1L145.1 996.9L146.2 999.7L147.4 1002.5L148.7 1005.2L149.9 1008.0L151.1 1010.7L152.2 1013.5L153.5 1016.3L154.8 1018.9L156.4 1021.5L158.0 1024.0L159.6 1026.6L161.2 1029.1L162.8 1031.7L164.3 1034.3L165.9 1036.9L167.4 1039.5L169.0 1042.0L170.6 1044.6L172.3 1047.0L174.0 1049.5L175.7 1052.0L177.4 1054.5L179.2 1056.9L181.0 1059.3L182.9 1061.7L184.7 1064.0L186.6 1066.4L188.5 1068.8L190.4 1071.0L192.5 1073.2L194.7 1075.3L196.8 1077.4L199.1 1079.4L201.4 1081.2L204.0 1082.8L206.6 1084.3L209.2 1085.9L211.7 1087.4L214.3 1089.0L216.8 1090.6L219.4 1092.2L222.0 1093.7L224.6 1095.2L227.2 1096.7L229.9 1098.2L232.5 1099.5L235.3 1100.9L238.0 1102.2L240.7 1103.5L243.4 1104.7L246.2 1105.9L249.0 1106.9L251.9 1107.9L254.7 1108.8L257.6 1109.7L260.5 1110.6L263.4 1111.4L266.3 1112.2L269.2 1112.9L272.1 1113.5L275.1 1114.2L278.0 1114.9L280.9 1115.7L283.8 1116.4L286.8 1117.2L289.7 1117.9L292.6 1118.7L295.5 1119.4L298.4 1120.1L301.3 1120.8L304.3 1121.5L307.2 1122.1L310.2 1122.8L313.1 1123.4L316.0 1124.1L319.0 1124.7L321.9 1125.3L324.9 1125.9L327.8 1126.5L330.8 1127.0L333.8 1127.6L336.7 1128.2L339.7 1128.7L342.6 1129.3L345.6 1129.8L348.6 1130.2L351.5 1130.7L354.5 1131.2L357.5 1131.7L360.5 1132.2L363.4 1132.6L366.4 1133.1L369.4 1133.5L372.4 1133.9L375.4 1134.3L378.3 1134.7L381.3 1135.1L384.3 1135.5L387.3 1135.8L390.3 1136.1L393.3 1136.4L396.3 1136.7L399.3 1137.0L402.3 1137.3L405.3 1137.6L408.3 1137.9L411.3 1138.2L414.3 1138.5L417.3 1138.8L420.3 1139.1L423.3 1139.4L426.3 1139.7L429.2 1140.1L432.2 1140.4L435.2 1140.8L438.2 1141.1L441.2 1141.4L444.2 1141.7L447.2 1141.9L450.2 1142.2L453.2 1142.4L456.2 1142.6L459.2 1142.9L462.2 1143.1L465.2 1143.4L468.2 1143.6L471.2 1143.8L474.2 1144.1L477.2 1144.3L480.2 1144.5L483.2 1144.7L486.2 1144.9L489.2 1145.1L492.2 1145.3L495.2 1145.5L498.2 1145.8L501.3 1146.0L504.3 1146.2L507.3 1146.4L510.3 1146.7L513.3 1146.9L516.3 1147.1L519.3 1147.4L522.3 1147.6L525.3 1147.9L528.3 1148.1L531.3 1148.4L534.3 1148.6L537.2 1149.0L540.2 1149.5L543.2 1149.9L546.2 1150.4L549.1 1150.8L552.1 1151.3L555.1 1151.7"/><path d="M96.3 881.3L99.0 881.8L101.3 883.3L103.3 885.5L105.0 887.9L106.5 890.5L108.0 893.2L109.4 895.8L110.9 898.4L112.4 901.0L113.8 903.7L115.0 906.4L116.0 909.3L116.9 912.1L117.8 915.0L118.7 917.9L119.6 920.8L120.4 923.6L121.3 926.5L122.1 929.4L123.0 932.3L123.9 935.2L124.9 938.0L125.9 940.8L126.9 943.7L127.8 946.6L128.6 949.4L129.5 952.3L130.3 955.2L131.1 958.1L132.0 961.0L132.8 963.9L133.7 966.8L134.5 969.7L135.5 972.5L136.6 975.3L137.7 978.1L138.9 980.9L139.9 983.7L140.9 986.5L142.0 989.4L143.0 992.2L144.0 995.0L145.1 997.9L146.2 1000.6L147.4 1003.4L148.7 1006.1L149.9 1008.9L151.1 1011.7L152.2 1014.4L153.5 1017.2L154.8 1019.8L156.4 1022.4L158.0 1025.0L159.6 1027.5L161.2 1030.1L162.8 1032.6L164.3 1035.2L165.9 1037.8L167.4 1040.4L169.0 1043.0L170.6 1045.5L172.3 1048.0L174.0 1050.5L175.7 1052.9L177.4 1055.4L179.2 1057.8L181.0 1060.2L182.9 1062.6L184.7 1065.0L186.6 1067.3L188.5 1069.7L190.4 1072.0L192.5 1074.1L194.7 1076.2L196.8 1078.3L199.1 1080.3L201.4 1082.1L204.0 1083.7L206.6 1085.3L209.2 1086.8L211.7 1088.4L214.3 1090.0L216.8 1091.5L219.4 1093.1L222.0 1094.7L224.6 1096.2L227.2 1097.7L229.9 1099.1L232.5 1100.5L235.3 1101.8L238.0 1103.1L240.7 1104.4L243.4 1105.7L246.2 1106.8L249.0 1107.8L251.9 1108.8L254.7 1109.7L257.6 1110.6L260.5 1111.5L263.4 1112.3L266.3 1113.1L269.2 1113.8L272.1 1114.4L275.1 1115.1L278.0 1115.8L280.9 1116.6L283.8 1117.3L286.8 1118.1L289.7 1118.8L292.6 1119.6L295.5 1120.3L298.4 1121.1L301.3 1121.8L304.3 1122.4L307.2 1123.1L310.2 1123.7L313.1 1124.4L316.0 1125.0L319.0 1125.6L321.9 1126.2L324.9 1126.8L327.8 1127.4L330.8 1128.0L333.8 1128.5L336.7 1129.1L339.7 1129.7L342.6 1130.2L345.6 1130.7L348.6 1131.2L351.5 1131.7L354.5 1132.2L357.5 1132.6L360.5 1133.1L363.4 1133.6L366.4 1134.0L369.4 1134.4L372.4 1134.8L375.4 1135.3L378.3 1135.7L381.3 1136.1L384.3 1136.4L387.3 1136.7L390.3 1137.0L393.3 1137.4L396.3 1137.7L399.3 1138.0L402.3 1138.3L405.3 1138.6L408.3 1138.9L411.3 1139.1L414.3 1139.4L417.3 1139.7L420.3 1140.0L423.3 1140.3L426.3 1140.7L429.2 1141.0L432.2 1141.4L435.2 1141.7L438.2 1142.0L441.2 1142.3L444.2 1142.6L447.2 1142.8L450.2 1143.1L453.2 1143.3L456.2 1143.6L459.2 1143.8L462.2 1144.1L465.2 1144.3L468.2 1144.5L471.2 1144.8L474.2 1145.0L477.2 1145.2L480.2 1145.4L483.2 1145.6L486.2 1145.8L489.2 1146.1L492.2 1146.3L495.2 1146.5L498.2 1146.7L501.3 1146.9L504.3 1147.1L507.3 1147.4L510.3 1147.6L513.3 1147.8L516.3 1148.1L519.3 1148.3L522.3 1148.6L525.3 1148.8L528.3 1149.0L531.3 1149.3L534.3 1149.6L537.2 1150.0L540.2 1150.4L543.2 1150.8L546.2 1151.3L549.1 1151.8L552.1 1152.2L555.1 1152.7"/><path d="M96.3 883.1L99.0 883.7L101.3 885.1L103.3 887.3L105.0 889.8L106.5 892.4L108.0 895.0L109.4 897.7L110.9 900.3L112.4 902.9L113.8 905.5L115.0 908.3L116.0 911.1L116.9 914.0L117.8 916.9L118.7 919.7L119.6 922.6L120.4 925.5L121.3 928.4L122.1 931.3L123.0 934.2L123.9 937.0L124.9 939.9L125.9 942.7L126.9 945.5L127.8 948.4L128.6 951.3L129.5 954.2L130.3 957.1L131.1 960.0L132.0 962.9L132.8 965.8L133.7 968.7L134.5 971.5L135.5 974.4L136.6 977.2L137.7 980.0L138.9 982.8L139.9 985.6L140.9 988.4L142.0 991.2L143.0 994.1L144.0 996.9L145.1 999.7L146.2 1002.5L147.4 1005.3L148.7 1008.0L149.9 1010.8L151.1 1013.5L152.2 1016.3L153.5 1019.1L154.8 1021.7L156.4 1024.3L158.0 1026.8L159.6 1029.4L161.2 1031.9L162.8 1034.5L164.3 1037.1L165.9 1039.7L167.4 1042.3L169.0 1044.8L170.6 1047.4L172.3 1049.8L174.0 1052.3L175.7 1054.8L177.4 1057.3L179.2 1059.7L181.0 1062.1L182.9 1064.5L184.7 1066.8L186.6 1069.2L188.5 1071.6L190.4 1073.8L192.5 1076.0L194.7 1078.1L196.8 1080.2L199.1 1082.2L201.4 1084.0L204.0 1085.6L206.6 1087.1L209.2 1088.7L211.7 1090.2L214.3 1091.8L216.8 1093.4L219.4 1095.0L222.0 1096.5L224.6 1098.0L227.2 1099.5L229.9 1101.0L232.5 1102.3L235.3 1103.7L238.0 1105.0L240.7 1106.3L243.4 1107.5L246.2 1108.7L249.0 1109.7L251.9 1110.7L254.7 1111.6L257.6 1112.5L260.5 1113.4L263.4 1114.2L266.3 1115.0L269.2 1115.7L272.1 1116.3L275.1 1117.0L278.0 1117.7L280.9 1118.5L283.8 1119.2L286.8 1120.0L289.7 1120.7L292.6 1121.5L295.5 1122.2L298.4 1122.9L301.3 1123.6L304.3 1124.3L307.2 1124.9L310.2 1125.6L313.1 1126.2L316.0 1126.9L319.0 1127.5L321.9 1128.1L324.9 1128.7L327.8 1129.3L330.8 1129.8L333.8 1130.4L336.7 1131.0L339.7 1131.5L342.6 1132.1L345.6 1132.6L348.6 1133.0L351.5 1133.5L354.5 1134.0L357.5 1134.5L360.5 1135.0L363.4 1135.4L366.4 1135.9L369.4 1136.3L372.4 1136.7L375.4 1137.1L378.3 1137.5L381.3 1137.9L384.3 1138.3L387.3 1138.6L390.3 1138.9L393.3 1139.2L396.3 1139.5L399.3 1139.8L402.3 1140.1L405.3 1140.4L408.3 1140.7L411.3 1141.0L414.3 1141.3L417.3 1141.6L420.3 1141.9L423.3 1142.2L426.3 1142.5L429.2 1142.9L432.2 1143.2L435.2 1143.6L438.2 1143.9L441.2 1144.2L444.2 1144.5L447.2 1144.7L450.2 1145.0L453.2 1145.2L456.2 1145.4L459.2 1145.7L462.2 1145.9L465.2 1146.2L468.2 1146.4L471.2 1146.6L474.2 1146.9L477.2 1147.1L480.2 1147.3L483.2 1147.5L486.2 1147.7L489.2 1147.9L492.2 1148.1L495.2 1148.3L498.2 1148.6L501.3 1148.8L504.3 1149.0L507.3 1149.2L510.3 1149.5L513.3 1149.7L516.3 1149.9L519.3 1150.2L522.3 1150.4L525.3 1150.7L528.3 1150.9L531.3 1151.2L534.3 1151.4L537.2 1151.8L540.2 1152.3L543.2 1152.7L546.2 1153.2L549.1 1153.6L552.1 1154.1L555.1 1154.5"/><path d="M96.3 884.1L99.0 884.6L101.3 886.1L103.3 888.3L105.0 890.7L106.5 893.3L108.0 896.0L109.4 898.6L110.9 901.2L112.4 903.8L113.8 906.5L115.0 909.2L116.0 912.1L116.9 914.9L117.8 917.8L118.7 920.7L119.6 923.6L120.4 926.4L121.3 929.3L122.1 932.2L123.0 935.1L123.9 938.0L124.9 940.8L125.9 943.6L126.9 946.5L127.8 949.4L128.6 952.2L129.5 955.1L130.3 958.0L131.1 960.9L132.0 963.8L132.8 966.7L133.7 969.6L134.5 972.5L135.5 975.3L136.6 978.1L137.7 980.9L138.9 983.7L139.9 986.5L140.9 989.3L142.0 992.2L143.0 995.0L144.0 997.8L145.1 1000.7L146.2 1003.4L147.4 1006.2L148.7 1008.9L149.9 1011.7L151.1 1014.5L152.2 1017.2L153.5 1020.0L154.8 1022.6L156.4 1025.2L158.0 1027.8L159.6 1030.3L161.2 1032.9L162.8 1035.4L164.3 1038.0L165.9 1040.6L167.4 1043.2L169.0 1045.8L170.6 1048.3L172.3 1050.8L174.0 1053.3L175.7 1055.7L177.4 1058.2L179.2 1060.6L181.0 1063.0L182.9 1065.4L184.7 1067.8L186.6 1070.1L188.5 1072.5L190.4 1074.8L192.5 1076.9L194.7 1079.0L196.8 1081.1L199.1 1083.1L201.4 1084.9L204.0 1086.5L206.6 1088.1L209.2 1089.6L211.7 1091.2L214.3 1092.8L216.8 1094.3L219.4 1095.9L222.0 1097.5L224.6 1099.0L227.2 1100.5L229.9 1101.9L232.5 1103.3L235.3 1104.6L238.0 1105.9L240.7 1107.2L243.4 1108.5L246.2 1109.6L249.0 1110.6L251.9 1111.6L254.7 1112.5L257.6 1113.4L260.5 1114.3L263.4 1115.1L266.3 1115.9L269.2 1116.6L272.1 1117.2L275.1 1117.9L278.0 1118.6L280.9 1119.4L283.8 1120.1L286.8 1120.9L289.7 1121.6L292.6 1122.4L295.5 1123.1L298.4 1123.9L301.3 1124.6L304.3 1125.2L307.2 1125.9L310.2 1126.5L313.1 1127.2L316.0 1127.8L319.0 1128.4L321.9 1129.0L324.9 1129.6L327.8 1130.2L330.8 1130.8L333.8 1131.3L336.7 1131.9L339.7 1132.5L342.6 1133.0L345.6 1133.5L348.6 1134.0L351.5 1134.5L354.5 1135.0L357.5 1135.4L360.5 1135.9L363.4 1136.4L366.4 1136.8L369.4 1137.2L372.4 1137.6L375.4 1138.1L378.3 1138.5L381.3 1138.9L384.3 1139.2L387.3 1139.5L390.3 1139.8L393.3 1140.2L396.3 1140.5L399.3 1140.8L402.3 1141.1L405.3 1141.4L408.3 1141.7L411.3 1141.9L414.3 1142.2L417.3 1142.5L420.3 1142.8L423.3 1143.1L426.3 1143.5L429.2 1143.8L432.2 1144.2L435.2 1144.5L438.2 1144.8L441.2 1145.1L444.2 1145.4L447.2 1145.6L450.2 1145.9L453.2 1146.1L456.2 1146.4L459.2 1146.6L462.2 1146.9L465.2 1147.1L468.2 1147.3L471.2 1147.6L474.2 1147.8L477.2 1148.0L480.2 1148.2L483.2 1148.4L486.2 1148.6L489.2 1148.9L492.2 1149.1L495.2 1149.3L498.2 1149.5L501.3 1149.7L504.3 1149.9L507.3 1150.2L510.3 1150.4L513.3 1150.6L516.3 1150.9L519.3 1151.1L522.3 1151.4L525.3 1151.6L528.3 1151.8L531.3 1152.1L534.3 1152.4L537.2 1152.8L540.2 1153.2L543.2 1153.6L546.2 1154.1L549.1 1154.6L552.1 1155.0L555.1 1155.5"/><path d="M96.3 885.0L99.0 885.5L101.3 887.0L103.3 889.2L105.0 891.7L106.5 894.3L108.0 896.9L109.4 899.6L110.9 902.2L112.4 904.8L113.8 907.4L115.0 910.2L116.0 913.0L116.9 915.9L117.8 918.7L118.7 921.6L119.6 924.5L120.4 927.4L121.3 930.3L122.1 933.1L123.0 936.0L123.9 938.9L124.9 941.7L125.9 944.6L126.9 947.4L127.8 950.3L128.6 953.2L129.5 956.1L130.3 959.0L131.1 961.9L132.0 964.8L132.8 967.6L133.7 970.5L134.5 973.4L135.5 976.3L136.6 979.1L137.7 981.8L138.9 984.6L139.9 987.5L140.9 990.3L142.0 993.1L143.0 995.9L144.0 998.8L145.1 1001.6L146.2 1004.4L147.4 1007.1L148.7 1009.9L149.9 1012.6L151.1 1015.4L152.2 1018.2L153.5 1020.9L154.8 1023.6L156.4 1026.2L158.0 1028.7L159.6 1031.3L161.2 1033.8L162.8 1036.4L164.3 1038.9L165.9 1041.5L167.4 1044.1L169.0 1046.7L170.6 1049.2L172.3 1051.7L174.0 1054.2L175.7 1056.7L177.4 1059.1L179.2 1061.6L181.0 1064.0L182.9 1066.3L184.7 1068.7L186.6 1071.1L188.5 1073.4L190.4 1075.7L192.5 1077.9L194.7 1080.0L196.8 1082.1L199.1 1084.1L201.4 1085.9L204.0 1087.5L206.6 1089.0L209.2 1090.6L211.7 1092.1L214.3 1093.7L216.8 1095.3L219.4 1096.9L222.0 1098.4L224.6 1099.9L227.2 1101.4L229.9 1102.8L232.5 1104.2L235.3 1105.5L238.0 1106.8L240.7 1108.1L243.4 1109.4L246.2 1110.6L249.0 1111.6L251.9 1112.5L254.7 1113.5L257.6 1114.4L260.5 1115.2L263.4 1116.1L266.3 1116.8L269.2 1117.5L272.1 1118.2L275.1 1118.9L278.0 1119.6L280.9 1120.3L283.8 1121.1L286.8 1121.8L289.7 1122.6L292.6 1123.3L295.5 1124.1L298.4 1124.8L301.3 1125.5L304.3 1126.2L307.2 1126.8L310.2 1127.5L313.1 1128.1L316.0 1128.7L319.0 1129.4L321.9 1130.0L324.9 1130.6L327.8 1131.1L330.8 1131.7L333.8 1132.3L336.7 1132.9L339.7 1133.4L342.6 1133.9L345.6 1134.4L348.6 1134.9L351.5 1135.4L354.5 1135.9L357.5 1136.4L360.5 1136.8L363.4 1137.3L366.4 1137.7L369.4 1138.1L372.4 1138.6L375.4 1139.0L378.3 1139.4L381.3 1139.8L384.3 1140.1L387.3 1140.4L390.3 1140.8L393.3 1141.1L396.3 1141.4L399.3 1141.7L402.3 1142.0L405.3 1142.3L408.3 1142.6L411.3 1142.9L414.3 1143.2L417.3 1143.4L420.3 1143.7L423.3 1144.1L426.3 1144.4L429.2 1144.7L432.2 1145.1L435.2 1145.4L438.2 1145.8L441.2 1146.1L444.2 1146.3L447.2 1146.6L450.2 1146.8L453.2 1147.1L456.2 1147.3L459.2 1147.5L462.2 1147.8L465.2 1148.0L468.2 1148.3L471.2 1148.5L474.2 1148.7L477.2 1148.9L480.2 1149.2L483.2 1149.4L486.2 1149.6L489.2 1149.8L492.2 1150.0L495.2 1150.2L498.2 1150.4L501.3 1150.6L504.3 1150.9L507.3 1151.1L510.3 1151.3L513.3 1151.6L516.3 1151.8L519.3 1152.1L522.3 1152.3L525.3 1152.5L528.3 1152.8L531.3 1153.0L534.3 1153.3L537.2 1153.7L540.2 1154.1L543.2 1154.6L546.2 1155.0L549.1 1155.5L552.1 1155.9L555.1 1156.4"/></g>

<path d="M98.9,883.3h5.8M101.8,880.4v5.8M102.4,884.8h5.8M105.3,881.9v5.8M104.9,887.6h5.8M107.8,884.7v5.8M107.3,890.5h5.8M110.2,887.6v5.8M109.7,893.5h5.8M112.6,890.6v5.8M111.8,896.6h5.8M114.7,893.7v5.8M113.1,900.1h5.8M116.0,897.2v5.8M113.9,903.9h5.8M116.8,901.0v5.8M114.7,907.6h5.8M117.6,904.7v5.8M117.1,910.5h5.8M120.0,907.6v5.8M119.4,913.5h5.8M122.3,910.6v5.8M121.5,916.7h5.8M124.4,913.8v5.8M123.1,920.2h5.8M126.0,917.3v5.8M124.7,923.6h5.8M127.6,920.7v5.8M126.3,927.0h5.8M129.2,924.1v5.8M128.3,930.3h5.8M131.2,927.4v5.8M130.3,933.5h5.8M133.2,930.6v5.8M131.5,937.1h5.8M134.4,934.2v5.8M132.5,940.7h5.8M135.4,937.8v5.8M133.4,944.4h5.8M136.3,941.5v5.8M134.4,948.1h5.8M137.3,945.2v5.8M135.2,951.8h5.8M138.1,948.9v5.8M136.3,955.4h5.8M139.2,952.5v5.8M137.7,959.0h5.8M140.6,956.1v5.8M139.1,962.5h5.8M142.0,959.6v5.8M140.1,966.2h5.8M143.0,963.3v5.8M141.2,969.8h5.8M144.1,966.9v5.8M143.0,973.2h5.8M145.9,970.3v5.8M144.8,976.5h5.8M147.7,973.6v5.8M147.0,979.6h5.8M149.9,976.7v5.8M149.2,982.7h5.8M152.1,979.8v5.8M150.7,986.2h5.8M153.6,983.3v5.8M152.1,989.7h5.8M155.0,986.8v5.8M153.5,993.2h5.8M156.4,990.3v5.8M154.9,996.8h5.8M157.8,993.9v5.8M156.4,1000.2h5.8M159.3,997.3v5.8M158.1,1003.7h5.8M161.0,1000.8v5.8M160.0,1006.9h5.8M162.9,1004.0v5.8M162.2,1010.0h5.8M165.1,1007.1v5.8M163.7,1013.5h5.8M166.6,1010.6v5.8M165.1,1017.0h5.8M168.0,1014.1v5.8M166.6,1020.5h5.8M169.5,1017.6v5.8M168.6,1023.8h5.8M171.5,1020.9v5.8M170.9,1026.7h5.8M173.8,1023.8v5.8M173.5,1029.5h5.8M176.4,1026.6v5.8M176.2,1032.2h5.8M179.1,1029.3v5.8M178.9,1034.9h5.8M181.8,1032.0v5.8M181.4,1037.7h5.8M184.3,1034.8v5.8M184.0,1040.5h5.8M186.9,1037.6v5.8M186.7,1043.2h5.8M189.6,1040.3v5.8M189.3,1045.9h5.8M192.2,1043.0v5.8M191.9,1048.7h5.8M194.8,1045.8v5.8M194.4,1051.6h5.8M197.3,1048.7v5.8M197.0,1054.3h5.8M199.9,1051.4v5.8M199.9,1056.8h5.8M202.8,1053.9v5.8M202.7,1059.4h5.8M205.6,1056.5v5.8M205.5,1061.9h5.8M208.4,1059.0v5.8M208.4,1064.4h5.8M211.3,1061.5v5.8M211.3,1066.8h5.8M214.2,1063.9v5.8M214.4,1069.0h5.8M217.3,1066.1v5.8M217.7,1070.9h5.8M220.6,1068.0v5.8M221.0,1072.9h5.8M223.9,1070.0v5.8M224.2,1074.9h5.8M227.1,1072.0v5.8M227.4,1076.8h5.8M230.3,1073.9v5.8M230.4,1079.1h5.8M233.3,1076.2v5.8M233.2,1081.7h5.8M236.1,1078.8v5.8M236.0,1084.3h5.8M238.9,1081.4v5.8M239.1,1086.5h5.8M242.0,1083.6v5.8M242.4,1088.4h5.8M245.3,1085.5v5.8M245.7,1090.3h5.8M248.6,1087.4v5.8M249.1,1091.9h5.8M252.0,1089.0v5.8M252.7,1093.2h5.8M255.6,1090.3v5.8M256.3,1094.4h5.8M259.2,1091.5v5.8M259.9,1095.4h5.8M262.8,1092.5v5.8M263.6,1096.3h5.8M266.5,1093.4v5.8M266.7,1098.3h5.8M269.6,1095.4v5.8M269.6,1100.8h5.8M272.5,1097.9v5.8M273.3,1101.4h5.8M276.2,1098.5v5.8M277.0,1102.1h5.8M279.9,1099.2v5.8M280.6,1103.4h5.8M283.5,1100.5v5.8M284.2,1104.7h5.8M287.1,1101.8v5.8M287.7,1106.0h5.8M290.6,1103.1v5.8M290.0,1109.0h5.8M292.9,1106.1v5.8M293.1,1110.7h5.8M296.0,1107.8v5.8M296.8,1111.5h5.8M299.7,1108.6v5.8M300.5,1112.4h5.8M303.4,1109.5v5.8M304.2,1113.3h5.8M307.1,1110.4v5.8M307.9,1114.2h5.8M310.8,1111.3v5.8M311.7,1114.7h5.8M314.6,1111.8v5.8M315.4,1115.2h5.8M318.3,1112.3v5.8M319.1,1116.1h5.8M322.0,1113.2v5.8M322.6,1117.6h5.8M325.5,1114.7v5.8" fill="none" stroke="#ab3329" stroke-width="1.3"/><path d="M329.1,1119.5h6.2M332.2,1116.4v6.2M345.2,1122.5h6.2M348.3,1119.4v6.2M349.2,1123.5h6.2M352.3,1120.4v6.2M361.3,1124.5h6.2M364.4,1121.4v6.2M365.4,1125.0h6.2M368.5,1121.9v6.2M383.5,1131.5h6.2M386.6,1128.4v6.2M389.5,1132.2h6.2M392.6,1129.1v6.2M395.6,1132.2h6.2M398.7,1129.1v6.2M430.3,1135.5h6.2M433.4,1132.4v6.2M453.7,1141.5h6.2M456.8,1138.4v6.2M456.9,1142.0h6.2M460.0,1138.9v6.2M459.9,1142.2h6.2M463.0,1139.1v6.2M500.5,1146.0h6.2M503.6,1142.9v6.2M504.9,1146.2h6.2M508.0,1143.1v6.2M508.9,1146.4h6.2M512.0,1143.3v6.2M512.9,1146.6h6.2M516.0,1143.5v6.2M559.9,1153.6h6.2M563.0,1150.5v6.2M562.9,1153.6h6.2M566.0,1150.5v6.2M565.9,1153.6h6.2M569.0,1150.5v6.2" fill="none" stroke="#ab3329" stroke-width="1.3"/><line x1="86.6" y1="882.4" x2="96.3" y2="882.4" stroke="#3b55a5" stroke-width="1.6"/><line x1="555" y1="1154.9" x2="570.7" y2="1154.9" stroke="#3b55a5" stroke-width="1.6"/><path d="M86.5,882.4h6.2M89.6,879.3v6.2M88.1,882.4h6.2M91.2,879.3v6.2M89.8,882.4h6.2M92.9,879.3v6.2M91.5,882.4h6.2M94.6,879.3v6.2M553.6,1154.9h6.2M556.7,1151.8v6.2M556.9,1154.9h6.2M560.0,1151.8v6.2M560.5,1154.9h6.2M563.6,1151.8v6.2M566.9,1154.9h6.2M570.0,1151.8v6.2" fill="none" stroke="#3b55a5" stroke-width="1.5"/>
<rect x="63.5" y="874.4" width="530.0" height="339.6" fill="none" stroke="#a6a8ae" stroke-width="1.3"/>
<line x1="57.5" x2="63.5" y1="1171.20" y2="1171.20" stroke="#a6a8ae" stroke-width="1.3"/>
<text x="53.3" y="1175.60" text-anchor="end" font-size="12.6" textLength="15.3" lengthAdjust="spacingAndGlyphs" fill="#1a1a1a" stroke="#1a1a1a">0.0</text>
<line x1="57.5" x2="63.5" y1="1113.42" y2="1113.42" stroke="#a6a8ae" stroke-width="1.3"/>
<text x="53.3" y="1117.82" text-anchor="end" font-size="12.6" textLength="15.3" lengthAdjust="spacingAndGlyphs" fill="#1a1a1a" stroke="#1a1a1a">0.2</text>
<line x1="57.5" x2="63.5" y1="1055.64" y2="1055.64" stroke="#a6a8ae" stroke-width="1.3"/>
<text x="53.3" y="1060.04" text-anchor="end" font-size="12.6" textLength="15.3" lengthAdjust="spacingAndGlyphs" fill="#1a1a1a" stroke="#1a1a1a">0.4</text>
<line x1="57.5" x2="63.5" y1="997.86" y2="997.86" stroke="#a6a8ae" stroke-width="1.3"/>
<text x="53.3" y="1002.26" text-anchor="end" font-size="12.6" textLength="15.3" lengthAdjust="spacingAndGlyphs" fill="#1a1a1a" stroke="#1a1a1a">0.6</text>
<line x1="57.5" x2="63.5" y1="940.08" y2="940.08" stroke="#a6a8ae" stroke-width="1.3"/>
<text x="53.3" y="944.48" text-anchor="end" font-size="12.6" textLength="15.3" lengthAdjust="spacingAndGlyphs" fill="#1a1a1a" stroke="#1a1a1a">0.8</text>
<line x1="57.5" x2="63.5" y1="882.30" y2="882.30" stroke="#a6a8ae" stroke-width="1.3"/>
<text x="53.3" y="886.70" text-anchor="end" font-size="12.6" textLength="15.3" lengthAdjust="spacingAndGlyphs" fill="#1a1a1a" stroke="#1a1a1a">1.0</text>
<line x1="89.60" x2="89.60" y1="1214.0" y2="1220.0" stroke="#a6a8ae" stroke-width="1.3"/>
<text x="89.60" y="1235.50" text-anchor="middle" font-size="12.4" textLength="5.8" lengthAdjust="spacingAndGlyphs" fill="#1a1a1a" stroke="#1a1a1a">0</text>
<text class="b" x="89.60" y="1197.80" text-anchor="middle" font-size="10.6" fill="#4a5ea8" stroke="#4a5ea8">19854</text>
<text class="b" x="89.60" y="1212.90" text-anchor="middle" font-size="10.6" fill="#c04a48" stroke="#c04a48">421</text>
<line x1="233.53" x2="233.53" y1="1214.0" y2="1220.0" stroke="#a6a8ae" stroke-width="1.3"/>
<text x="233.53" y="1235.50" text-anchor="middle" font-size="12.4" textLength="11.7" lengthAdjust="spacingAndGlyphs" fill="#1a1a1a" stroke="#1a1a1a">50</text>
<text class="b" x="233.53" y="1197.80" text-anchor="middle" font-size="10.6" fill="#4a5ea8" stroke="#4a5ea8">3291</text>
<text class="b" x="233.53" y="1212.90" text-anchor="middle" font-size="10.6" fill="#c04a48" stroke="#c04a48">103</text>
<line x1="377.47" x2="377.47" y1="1214.0" y2="1220.0" stroke="#a6a8ae" stroke-width="1.3"/>
<text x="377.47" y="1235.50" text-anchor="middle" font-size="12.4" textLength="18.7" lengthAdjust="spacingAndGlyphs" fill="#1a1a1a" stroke="#1a1a1a">100</text>
<text class="b" x="377.47" y="1197.80" text-anchor="middle" font-size="10.6" fill="#4a5ea8" stroke="#4a5ea8">704</text>
<text class="b" x="377.47" y="1212.90" text-anchor="middle" font-size="10.6" fill="#c04a48" stroke="#c04a48">21</text>
<line x1="521.40" x2="521.40" y1="1214.0" y2="1220.0" stroke="#a6a8ae" stroke-width="1.3"/>
<text x="521.40" y="1235.50" text-anchor="middle" font-size="12.4" textLength="18.7" lengthAdjust="spacingAndGlyphs" fill="#1a1a1a" stroke="#1a1a1a">150</text>
<text class="b" x="521.40" y="1197.80" text-anchor="middle" font-size="10.6" fill="#4a5ea8" stroke="#4a5ea8">56</text>
<text class="b" x="521.40" y="1212.90" text-anchor="middle" font-size="10.6" fill="#c04a48" stroke="#c04a48">4</text>
<text class="b" x="13.6" y="1197.30" font-size="10" textLength="19.4" lengthAdjust="spacingAndGlyphs" fill="#1a1a1a" stroke="#1a1a1a">No I</text>
<text class="b" x="13.6" y="1212.10" font-size="10" fill="#1a1a1a" stroke="#1a1a1a">I</text>
<text x="50.2" y="1199.00" text-anchor="middle" font-size="11.4" fill="#4a5ea8" stroke="#4a5ea8">0</text>
<text x="50.2" y="1213.40" text-anchor="middle" font-size="11.4" fill="#c04a48" stroke="#c04a48">1</text>
<text class="b" x="307.3" y="1259.30" font-size="16" font-weight="bold" textLength="57" lengthAdjust="spacingAndGlyphs" fill="#111" stroke="#111">Months</text>
<text class="b" transform="translate(25,1082.90) rotate(-90)" x="0" y="0" font-size="15.3" font-weight="bold" textLength="114" lengthAdjust="spacingAndGlyphs" fill="#111" stroke="#111">Overall Survival</text>
<rect x="487.4" y="879.1" width="101.2" height="33.1" fill="#fff" stroke="#d4d4d4" stroke-width="1"/>
<text x="538.0" y="891.7" text-anchor="middle" font-size="12.2" textLength="60" lengthAdjust="spacingAndGlyphs" fill="#1a1a1a" stroke="#1a1a1a">+ Censored</text>
<text x="538.0" y="908.1" text-anchor="middle" font-size="12.2" textLength="92" lengthAdjust="spacingAndGlyphs" fill="#1a1a1a" stroke="#1a1a1a">Logrank p=0.0001</text>
<text class="b" x="5.5" y="869.3" font-size="38" fill="#000" stroke="#000">c</text>
</svg>
</body></html>
